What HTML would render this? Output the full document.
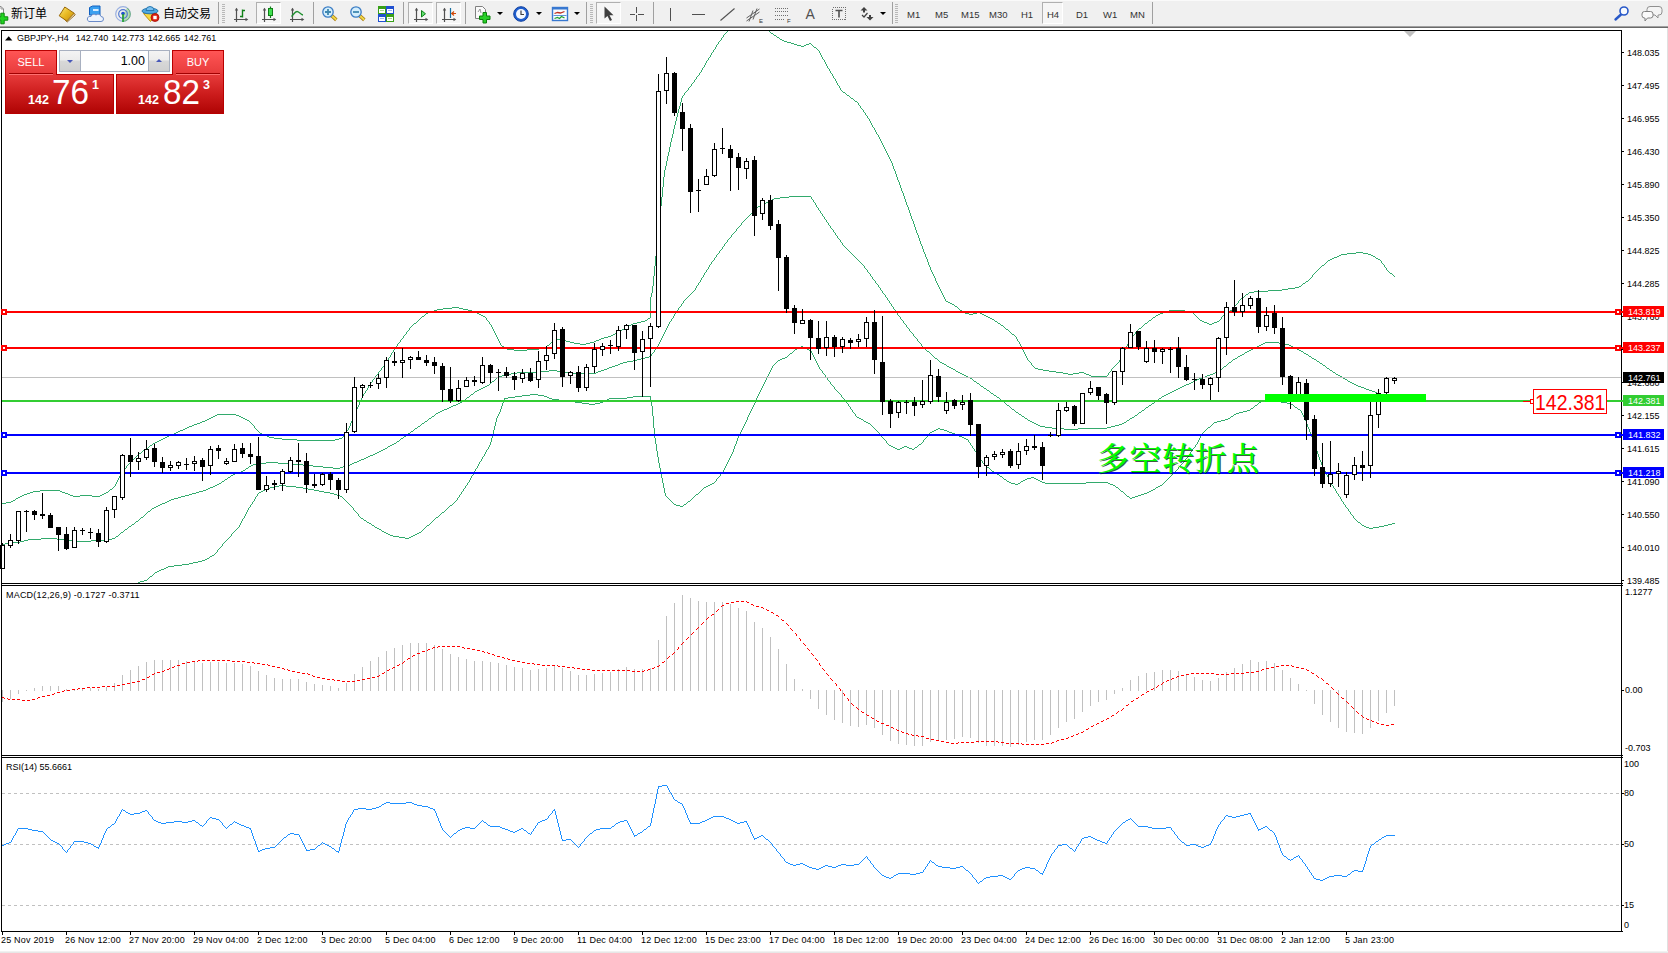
<!DOCTYPE html>
<html><head><meta charset="utf-8"><title>GBPJPY H4</title>
<style>
html,body{margin:0;padding:0;}
body{width:1668px;height:953px;overflow:hidden;background:#fff;position:relative;font-family:"Liberation Sans", sans-serif;}
#tb{position:absolute;left:0;top:0;width:1668px;height:26px;background:#f0f0f0;}
#tbl1{position:absolute;left:0;top:26px;width:1668px;height:1px;background:#a0a0a0;}
#tbl2{position:absolute;left:0;top:27px;width:1668px;height:1px;background:#696969;}
#rb{position:absolute;left:1667px;top:28px;width:1px;height:925px;background:#e0e0e0;}
#bb{position:absolute;left:0;top:951px;width:1668px;height:2px;background:linear-gradient(#f6f6f6,#e2e2e2);}
svg#ch{position:absolute;left:0;top:0;}
.ax{position:absolute;font-size:9px;line-height:12px;color:#000;white-space:nowrap;}
.tag{position:absolute;left:1623px;width:41px;height:11px;color:#fff;font-size:9px;line-height:12px;text-indent:5px;white-space:nowrap;}
.t9{position:absolute;font-size:9px;line-height:12px;color:#000;white-space:nowrap;}
</style></head><body>
<div id="tb"></div><div id="tbl1"></div><div id="tbl2"></div>
<svg id="ch" width="1668" height="953" viewBox="0 0 1668 953">
<defs><clipPath id="cmain"><rect x="2" y="31" width="1619" height="552"/></clipPath></defs>
<path d="M727 31.5h1M769 31.5h1M726 32.5h1M770 32.5h1M725 33.5h1M771 33.5h2M724 34.5h1M773 34.5h1M723.5 35v2M774 35.5h2M776 36.5h1M722 37.5h1M777 37.5h2M721.5 38v2M779 38.5h1M780 39.5h2M720 40.5h1M782 40.5h2M719 41.5h1M784 41.5h3M718.5 42v2M787 42.5h4M791 43.5h3M809 43.5h2M717 44.5h1M794 44.5h3M806 44.5h3M811 44.5h1M716.5 45v2M797 45.5h4M804 45.5h2M812 45.5h1M801 46.5h3M813 46.5h1M715.5 47v2M814 47.5h2M816 48.5h1M714 49.5h1M817 49.5h1M713.5 50v2M818 50.5h1M819.5 51v2M712 52.5h1M711.5 53v2M820.5 53v2M710.5 55v2M821.5 55v2M709 57.5h1M822.5 57v2M708.5 58v2M823 59.5h1M707 60.5h1M824.5 60v2M706.5 61v2M825.5 62v2M705.5 63v2M826.5 64v2M704.5 65v2M827.5 66v2M703 67.5h1M702.5 68v2M828 68.5h1M829.5 69v2M701.5 70v2M830.5 71v2M700 72.5h1M699.5 73v2M831 73.5h1M832.5 74v2M698 75.5h1M697 76.5h1M833.5 76v2M696.5 77v2M834 78.5h1M695 79.5h1M835.5 79v2M694.5 80v2M836.5 81v2M693 82.5h1M692 83.5h1M837.5 83v2M691.5 84v2M838 85.5h1M690 86.5h1M839.5 86v2M689 87.5h1M688.5 88v2M840.5 88v2M687 90.5h1M841 90.5h1M686 91.5h1M842 91.5h1M685 92.5h1M843 92.5h2M684.5 93v2M845 93.5h1M846 94.5h1M683 95.5h1M847 95.5h2M682.5 96v2M849 96.5h1M850 97.5h1M681.5 98v4M851 98.5h2M853 99.5h1M854 100.5h1M855 101.5h2M680.5 102v4M857 102.5h1M858.5 103v2M859 105.5h1M679.5 106v3M860.5 106v2M861 108.5h1M678.5 109v4M862 109.5h1M863.5 110v2M864 112.5h1M677.5 113v4M865.5 113v2M866 115.5h1M867.5 116v2M676.5 117v4M868 118.5h1M869.5 119v2M675.5 121v4M870.5 121v2M871.5 123v2M674.5 125v4M872.5 125v2M873 127.5h1M874.5 128v2M673.5 129v5M875.5 130v2M876.5 132v2M672.5 134v4M877 134.5h1M878.5 135v2M879.5 137v2M671.5 138v4M880.5 139v2M881.5 141v2M670.5 142v5M882.5 143v2M883.5 145v2M669.5 147v5M884.5 147v2M885.5 149v2M886.5 151v2M668.5 152v4M887.5 153v2M888.5 155v2M667.5 156v5M889.5 157v2M890.5 159v2M666.5 161v5M891.5 161v2M892.5 163v3M665.5 166v4M893.5 166v3M894.5 169v2M664.5 170v7M895.5 171v3M896.5 174v3M663.5 177v10M897.5 177v3M898.5 180v2M899.5 182v3M900.5 185v3M662.5 187v10M901.5 188v3M902.5 191v2M903.5 193v3M904.5 196v3M661.5 197v9M905.5 199v3M906.5 202v3M907.5 205v2M660.5 206v10M908.5 207v3M909.5 210v3M910.5 213v3M659.5 216v10M911.5 216v3M912.5 219v2M913.5 221v3M914.5 224v3M658.5 226v10M915.5 227v3M916.5 230v3M917.5 233v2M918.5 235v3M657.5 236v10M919.5 238v3M920.5 241v3M921.5 244v2M656.5 246v10M922.5 246v3M923.5 249v3M924.5 252v2M1356 252.5h7M1347 253.5h9M1363 253.5h5M925.5 254v3M1341 254.5h6M1368 254.5h3M1339 255.5h2M1371 255.5h2M655.5 256v10M1337 256.5h2M1373 256.5h2M926.5 257v2M1334 257.5h3M1375 257.5h1M1332 258.5h2M1376 258.5h2M927.5 259v3M1330 259.5h2M1378 259.5h2M1328 260.5h2M1380 260.5h1M1327 261.5h1M1381.5 261v2M928.5 262v3M1326 262.5h1M1325 263.5h1M1382 263.5h1M1324 264.5h1M1383 264.5h1M929.5 265v2M1322 265.5h2M1384.5 265v2M654.5 266v10M1321 266.5h1M930.5 267v3M1320 267.5h1M1385 267.5h1M1319 268.5h1M1386.5 268v2M1318 269.5h1M931.5 270v2M1317 270.5h1M1387 270.5h1M1316 271.5h1M1388 271.5h1M932.5 272v2M1315 272.5h1M1389 272.5h1M1314 273.5h1M1390 273.5h2M933.5 274v2M1313 274.5h1M1392 274.5h1M1312.5 275v2M1393 275.5h1M653.5 276v10M934.5 276v2M1394 276.5h1M1311 277.5h1M935.5 278v3M1310 278.5h1M1309 279.5h1M1308 280.5h1M936.5 281v2M1306 281.5h2M1305 282.5h1M937.5 283v2M1303 283.5h2M1302 284.5h1M938.5 285v2M1301 285.5h1M652.5 286v7M1299 286.5h2M939.5 287v2M1295 287.5h4M1288 288.5h7M940.5 289v2M1282 289.5h6M1268 290.5h14M941.5 291v2M1254 291.5h14M1249 292.5h5M651.5 293v4M942.5 293v2M1248 293.5h1M1246 294.5h2M943.5 295v2M1245 295.5h1M1244 296.5h1M650.5 297v21M944.5 297v2M1242 297.5h2M1241 298.5h1M945.5 299v2M1240 299.5h1M1239 300.5h1M946 301.5h2M1238.5 301v2M948 302.5h2M950 303.5h2M1237 303.5h1M952 304.5h2M1236 304.5h1M954 305.5h1M1235 305.5h1M955 306.5h2M1234.5 306v2M452 307.5h7M957 307.5h1M443 308.5h9M459 308.5h4M958 308.5h1M1233 308.5h1M437 309.5h6M463 309.5h5M959 309.5h1M1232 309.5h1M434 310.5h3M468 310.5h4M960 310.5h2M1169 310.5h16M1230 310.5h2M431 311.5h3M472 311.5h2M962 311.5h1M1166 311.5h3M1185 311.5h5M1228 311.5h2M428 312.5h3M474 312.5h3M963 312.5h2M977 312.5h3M1163 312.5h3M1190 312.5h3M1227 312.5h1M426 313.5h2M477 313.5h2M965 313.5h4M973 313.5h4M980 313.5h2M1160 313.5h3M1193 313.5h1M1225 313.5h2M425 314.5h1M479 314.5h2M969 314.5h4M982 314.5h2M1158 314.5h2M1194 314.5h1M1224 314.5h1M424 315.5h1M481 315.5h2M984 315.5h2M1156 315.5h2M1195 315.5h1M1223 315.5h1M422 316.5h2M483 316.5h2M986 316.5h2M1155 316.5h1M1196 316.5h1M1222 316.5h1M421 317.5h1M485 317.5h1M988 317.5h2M1153 317.5h2M1197 317.5h1M1221.5 317v2M420 318.5h1M486.5 318v2M648 318.5h2M990 318.5h2M1152 318.5h1M1198 318.5h1M419 319.5h1M647 319.5h1M992 319.5h2M1151 319.5h1M1199 319.5h1M1220 319.5h1M418 320.5h1M487 320.5h1M645 320.5h2M994 320.5h1M1149 320.5h2M1200 320.5h2M1219 320.5h1M417 321.5h1M488 321.5h1M641 321.5h4M995 321.5h2M1148 321.5h1M1202 321.5h2M1217 321.5h2M416 322.5h1M489.5 322v2M637 322.5h4M997 322.5h1M1147 322.5h1M1204 322.5h3M1214 322.5h3M414 323.5h2M633 323.5h4M998 323.5h2M1145 323.5h2M1207 323.5h2M1212 323.5h2M413 324.5h1M490 324.5h1M631 324.5h2M1000 324.5h1M1144 324.5h1M1209 324.5h3M412 325.5h1M491.5 325v2M629 325.5h2M1001 325.5h2M1143 325.5h1M411 326.5h1M627 326.5h2M1003 326.5h1M1142 326.5h1M410 327.5h1M492.5 327v2M625 327.5h2M1004 327.5h1M1141 327.5h1M409.5 328v2M624 328.5h1M1005 328.5h1M1139 328.5h2M493.5 329v2M622 329.5h2M1006 329.5h2M1138 329.5h1M408 330.5h1M620 330.5h2M1008 330.5h1M1137 330.5h1M407 331.5h1M494.5 331v2M618 331.5h2M1009 331.5h1M1136 331.5h1M406.5 332v2M617 332.5h1M1010 332.5h1M1135.5 332v2M495.5 333v2M615 333.5h2M1011 333.5h1M405 334.5h1M613 334.5h2M1012 334.5h2M1134 334.5h1M404 335.5h1M496.5 335v2M611 335.5h2M1014 335.5h1M1133 335.5h1M403.5 336v2M608 336.5h3M1015 336.5h1M1132.5 336v2M497.5 337v2M604 337.5h4M1016.5 337v2M402 338.5h1M601 338.5h3M1131 338.5h1M401 339.5h1M498.5 339v2M556 339.5h4M599 339.5h2M1017.5 339v2M1130 339.5h1M400.5 340v2M554 340.5h2M560 340.5h6M596 340.5h3M1129.5 340v2M499.5 341v2M553 341.5h1M566 341.5h4M594 341.5h2M1018 341.5h1M399 342.5h1M551 342.5h2M570 342.5h4M590 342.5h4M1019.5 342v2M1128.5 342v2M398 343.5h1M500.5 343v2M550 343.5h1M574 343.5h6M586 343.5h4M397.5 344v2M549 344.5h1M580 344.5h6M1020.5 344v2M1127.5 344v2M501 345.5h1M547 345.5h2M396 346.5h1M502 346.5h2M546 346.5h1M1021.5 346v2M1126.5 346v2M395.5 347v2M504 347.5h1M545 347.5h1M505 348.5h2M539 348.5h6M1022.5 348v2M1125.5 348v2M394 349.5h1M507 349.5h7M527 349.5h12M393.5 350v2M514 350.5h13M1023.5 350v2M1124.5 350v2M392 352.5h1M1024.5 352v2M1123.5 352v2M391.5 353v2M1025.5 354v2M1122.5 354v2M390.5 355v2M1026.5 356v2M1121.5 356v2M389 357.5h1M388.5 358v2M1027.5 358v2M1120.5 358v2M387 360.5h1M1028 360.5h1M1119.5 360v2M386.5 361v2M1029 361.5h1M1030 362.5h1M1118 362.5h1M385 363.5h1M1031.5 363v2M1117 363.5h1M384.5 364v2M1116 364.5h1M1032 365.5h1M1115 365.5h1M383 366.5h1M1033 366.5h1M1114 366.5h1M382 367.5h1M1034 367.5h1M1113 367.5h1M381.5 368v2M1035 368.5h3M1112 368.5h1M1038 369.5h5M1111.5 369v2M380 370.5h1M1043 370.5h6M379 371.5h1M1049 371.5h7M1110 371.5h1M378.5 372v2M1056 372.5h7M1079 372.5h5M1109 372.5h1M1063 373.5h5M1073 373.5h6M1084 373.5h2M1108.5 373v2M377 374.5h1M1068 374.5h5M1086 374.5h3M376 375.5h1M1089 375.5h2M1107 375.5h1M375.5 376v2M1091 376.5h16M374 378.5h1M373 379.5h1M372.5 380v2M371 382.5h1M370.5 383v2M369 385.5h1M368.5 386v2M367.5 388v2M366 390.5h1M365.5 391v2M364 393.5h1M363.5 394v2M362.5 396v2M361.5 398v2M360.5 400v2M359.5 402v3M358.5 405v2M357.5 407v2M356.5 409v2M355.5 411v3M217 414.5h19M354.5 414v2M215 415.5h2M236 415.5h3M213 416.5h2M239 416.5h2M353.5 416v3M211 417.5h2M241 417.5h2M209 418.5h2M243 418.5h2M207 419.5h2M245 419.5h2M352.5 419v2M205 420.5h2M247 420.5h2M202 421.5h3M249 421.5h1M351.5 421v2M200 422.5h2M250 422.5h1M197 423.5h3M251 423.5h1M350.5 423v3M194 424.5h3M252 424.5h1M192 425.5h2M253 425.5h1M189 426.5h3M254.5 426v2M349.5 426v2M187 427.5h2M185 428.5h2M255 428.5h1M348.5 428v2M183 429.5h2M256 429.5h1M180 430.5h3M257 430.5h1M347 430.5h1M178 431.5h2M258 431.5h1M346.5 431v2M176 432.5h2M259 432.5h1M174 433.5h2M260 433.5h2M345 433.5h1M171 434.5h3M262 434.5h2M344 434.5h1M169 435.5h2M264 435.5h3M343.5 435v2M167 436.5h2M267 436.5h2M165 437.5h2M269 437.5h5M342 437.5h1M163 438.5h2M274 438.5h8M339 438.5h3M161 439.5h2M282 439.5h15M335 439.5h4M159 440.5h2M297 440.5h38M157 441.5h2M155 442.5h2M153 443.5h2M152 444.5h1M150 445.5h2M149 446.5h1M148 447.5h1M146 448.5h2M145 449.5h1M143 450.5h2M142 451.5h1M141 452.5h1M139 453.5h2M138 454.5h1M137 455.5h1M136 456.5h1M135 457.5h1M134 458.5h1M133 459.5h1M132 460.5h1M131 461.5h1M130 462.5h1M129 463.5h1M128 464.5h1M127 465.5h1M126.5 466v2M125 468.5h1M124 469.5h1M123.5 470v2M122 472.5h1M121 473.5h1M120.5 474v2M119.5 476v2M118.5 478v2M117.5 480v2M116.5 482v2M115.5 484v2M114 486.5h1M113 487.5h1M112 488.5h1M110 489.5h2M40 490.5h20M109 490.5h1M33 491.5h7M60 491.5h2M108 491.5h1M30 492.5h3M62 492.5h3M106 492.5h2M27 493.5h3M65 493.5h3M104 493.5h2M24 494.5h3M68 494.5h2M102 494.5h2M22 495.5h2M70 495.5h3M80 495.5h12M100 495.5h2M20 496.5h2M73 496.5h7M92 496.5h8M18 497.5h2M16 498.5h2M15 499.5h1M13 500.5h2M11 501.5h2M6 502.5h5M2 503.5h4" stroke="#32aa6c" stroke-width="1" fill="none" shape-rendering="crispEdges"/>
<path d="M789 196.5h22M780 197.5h9M811.5 197v2M774 198.5h6M772 199.5h2M812 199.5h1M770 200.5h2M813.5 200v2M768 201.5h2M766 202.5h2M814 202.5h1M764 203.5h2M815.5 203v2M762 204.5h2M760 205.5h2M816.5 205v2M758 206.5h2M757 207.5h1M817 207.5h1M756 208.5h1M818.5 208v2M755 209.5h1M754 210.5h1M819 210.5h1M753 211.5h1M820.5 211v2M752 212.5h1M751 213.5h1M821 213.5h1M750 214.5h1M822.5 214v2M749 215.5h1M748 216.5h1M823 216.5h1M747 217.5h1M824.5 217v2M746 218.5h1M745 219.5h1M825 219.5h1M744 220.5h1M826.5 220v2M743 221.5h1M742 222.5h1M827 222.5h1M741.5 223v2M828.5 223v2M740 225.5h1M829 225.5h1M739 226.5h1M830.5 226v2M738 227.5h1M737 228.5h1M831 228.5h1M736.5 229v2M832 229.5h1M833.5 230v2M735 231.5h1M734 232.5h1M834 232.5h1M733 233.5h1M835.5 233v2M732 234.5h1M731.5 235v2M836 235.5h1M837.5 236v2M730 237.5h1M729 238.5h1M838 238.5h1M728 239.5h1M839 239.5h1M727.5 240v2M840.5 240v2M726 242.5h1M841 242.5h1M725 243.5h1M842.5 243v2M724.5 244v2M843 245.5h1M723 246.5h1M844 246.5h1M722.5 247v2M845 247.5h1M846 248.5h1M721 249.5h1M847 249.5h1M720 250.5h1M848 250.5h1M719.5 251v2M849 251.5h1M850 252.5h1M718 253.5h1M851 253.5h1M717 254.5h1M852 254.5h1M716.5 255v2M853 255.5h1M854 256.5h1M715 257.5h1M855 257.5h1M714.5 258v2M856 258.5h1M857 259.5h1M713 260.5h1M858 260.5h1M712 261.5h1M859 261.5h1M711.5 262v2M860 262.5h1M861 263.5h1M710 264.5h1M862 264.5h1M709.5 265v2M863 265.5h1M864.5 266v2M708.5 267v2M865 268.5h1M707 269.5h1M866 269.5h1M706.5 270v2M867.5 270v2M705 272.5h1M868 272.5h1M704.5 273v2M869 273.5h1M870.5 274v2M703.5 275v2M871 276.5h1M702 277.5h1M872.5 277v2M701.5 278v2M873 279.5h1M700.5 280v2M874 280.5h1M875.5 281v2M699 282.5h1M698.5 283v2M876 283.5h1M877 284.5h1M697 285.5h1M878.5 285v2M696.5 286v2M879 287.5h1M695.5 288v2M880.5 288v2M694 290.5h1M881 290.5h1M693 291.5h1M882.5 291v2M692 292.5h1M691 293.5h1M883 293.5h1M690 294.5h1M884 294.5h1M689 295.5h1M885.5 295v2M688 296.5h1M687 297.5h1M886 297.5h1M686 298.5h1M887.5 298v2M685 299.5h1M684 300.5h1M888 300.5h1M683.5 301v2M889.5 301v2M682 303.5h1M890 303.5h1M681.5 304v2M891.5 304v2M680 306.5h1M892 306.5h1M679 307.5h1M893.5 307v2M678.5 308v2M894 309.5h1M677 310.5h1M895.5 310v2M676.5 311v2M896 312.5h1M675 313.5h1M897.5 313v2M674.5 314v2M898 315.5h1M673.5 316v2M899 316.5h1M900.5 317v2M672 318.5h1M671.5 319v2M901 319.5h1M902 320.5h1M670 321.5h1M903.5 321v2M669.5 322v2M904 323.5h1M668.5 324v2M905 324.5h1M906.5 325v2M667.5 326v2M907 327.5h1M666.5 328v2M908 328.5h1M909.5 329v2M665.5 330v2M910 331.5h1M664.5 332v2M911 332.5h1M912 333.5h1M663.5 334v2M913.5 334v2M662.5 336v2M914 336.5h1M915 337.5h1M661.5 338v2M916 338.5h1M917.5 339v2M660.5 340v2M918 341.5h1M659.5 342v2M919 342.5h1M1265 342.5h14M920 343.5h1M1263 343.5h2M1279 343.5h6M658.5 344v2M921.5 344v2M1261 344.5h2M1285 344.5h4M1259 345.5h2M1289 345.5h2M657 346.5h1M922 346.5h1M1257 346.5h2M1291 346.5h2M656.5 347v2M923 347.5h1M1255 347.5h2M1293 347.5h2M924 348.5h1M1253 348.5h2M1295 348.5h2M655 349.5h1M925 349.5h1M1251 349.5h2M1297 349.5h2M654.5 350v2M926 350.5h1M1249 350.5h2M1299 350.5h2M927 351.5h2M1247 351.5h2M1301 351.5h2M653 352.5h1M929 352.5h1M1245 352.5h2M1303 352.5h1M652 353.5h1M930 353.5h1M1244 353.5h1M1304 353.5h2M651.5 354v2M931 354.5h1M1242 354.5h2M1306 354.5h2M932 355.5h1M1240 355.5h2M1308 355.5h1M649 356.5h2M933 356.5h1M1238 356.5h2M1309 356.5h2M645 357.5h4M934 357.5h1M1237 357.5h1M1311 357.5h1M641 358.5h4M935 358.5h2M1235 358.5h2M1312 358.5h2M637 359.5h4M937 359.5h1M1233 359.5h2M1314 359.5h2M633 360.5h4M938 360.5h1M1232 360.5h1M1316 360.5h1M627 361.5h6M939 361.5h1M1231 361.5h1M1317 361.5h2M623 362.5h4M940 362.5h2M1229 362.5h2M1319 362.5h1M620 363.5h3M942 363.5h2M1228 363.5h1M1320 363.5h2M618 364.5h2M944 364.5h2M1227 364.5h1M1322 364.5h1M615 365.5h3M946 365.5h1M1226 365.5h1M1323 365.5h2M612 366.5h3M947 366.5h2M1224 366.5h2M1325 366.5h1M609 367.5h3M949 367.5h2M1223 367.5h1M1326 367.5h1M607 368.5h2M951 368.5h2M1222 368.5h1M1327 368.5h2M604 369.5h3M953 369.5h2M1220 369.5h2M1329 369.5h1M549 370.5h8M601 370.5h3M955 370.5h1M1218 370.5h2M1330 370.5h2M539 371.5h10M557 371.5h7M598 371.5h3M956 371.5h2M1217 371.5h1M1332 371.5h1M517 372.5h22M564 372.5h6M596 372.5h2M958 372.5h2M1215 372.5h2M1333 372.5h2M511 373.5h6M570 373.5h26M960 373.5h2M1213 373.5h2M1335 373.5h1M506 374.5h5M962 374.5h2M1210 374.5h3M1336 374.5h2M502 375.5h4M964 375.5h2M1207 375.5h3M1338 375.5h2M499 376.5h3M966 376.5h2M1205 376.5h2M1340 376.5h2M497 377.5h2M968 377.5h2M1202 377.5h3M1342 377.5h1M496 378.5h1M970 378.5h2M1199 378.5h3M1343 378.5h2M495 379.5h1M972 379.5h1M1197 379.5h2M1345 379.5h2M494 380.5h1M973 380.5h1M1195 380.5h2M1347 380.5h1M492 381.5h2M974 381.5h2M1193 381.5h2M1348 381.5h2M491 382.5h1M976 382.5h1M1191 382.5h2M1350 382.5h2M490 383.5h1M977 383.5h2M1189 383.5h2M1352 383.5h2M489 384.5h1M979 384.5h1M1186 384.5h3M1354 384.5h2M487 385.5h2M980 385.5h1M1184 385.5h2M1356 385.5h2M485 386.5h2M981 386.5h2M1182 386.5h2M1358 386.5h3M483 387.5h2M983 387.5h1M1180 387.5h2M1361 387.5h3M481 388.5h2M984 388.5h2M1178 388.5h2M1364 388.5h2M479 389.5h2M986 389.5h1M1176 389.5h2M1366 389.5h3M477 390.5h2M987 390.5h2M1174 390.5h2M1369 390.5h3M475 391.5h2M989 391.5h1M1172 391.5h2M1372 391.5h3M474 392.5h1M990 392.5h1M1170 392.5h2M1375 392.5h2M473 393.5h1M991 393.5h2M1168 393.5h2M471 394.5h2M993 394.5h1M1166 394.5h2M470 395.5h1M994 395.5h2M1164 395.5h2M469 396.5h1M996 396.5h1M1162 396.5h2M467 397.5h2M997 397.5h2M1161 397.5h1M466 398.5h1M999 398.5h1M1159 398.5h2M465 399.5h1M1000 399.5h1M1158 399.5h1M463 400.5h2M1001 400.5h2M1156 400.5h2M462 401.5h1M1003 401.5h1M1155 401.5h1M460 402.5h2M1004 402.5h1M1154 402.5h1M458 403.5h2M1005 403.5h1M1152 403.5h2M456 404.5h2M1006 404.5h1M1151 404.5h1M453 405.5h3M1007 405.5h2M1149 405.5h2M451 406.5h2M1009 406.5h1M1148 406.5h1M449 407.5h2M1010 407.5h1M1146 407.5h2M447 408.5h2M1011 408.5h1M1145 408.5h1M444 409.5h3M1012 409.5h2M1144 409.5h1M442 410.5h2M1014 410.5h1M1142 410.5h2M440 411.5h2M1015 411.5h1M1141 411.5h1M438 412.5h2M1016 412.5h2M1139 412.5h2M436 413.5h2M1018 413.5h1M1138 413.5h1M435 414.5h1M1019 414.5h2M1137 414.5h1M434 415.5h1M1021 415.5h1M1135 415.5h2M432 416.5h2M1022 416.5h2M1134 416.5h1M431 417.5h1M1024 417.5h1M1132 417.5h2M429 418.5h2M1025 418.5h2M1130 418.5h2M428 419.5h1M1027 419.5h1M1129 419.5h1M427 420.5h1M1028 420.5h2M1127 420.5h2M425 421.5h2M1030 421.5h2M1126 421.5h1M424 422.5h1M1032 422.5h2M1124 422.5h2M422 423.5h2M1034 423.5h2M1122 423.5h2M421 424.5h1M1036 424.5h2M1119 424.5h3M420 425.5h1M1038 425.5h2M1115 425.5h4M418 426.5h2M1040 426.5h5M1111 426.5h4M417 427.5h1M1045 427.5h7M1107 427.5h4M415 428.5h2M1052 428.5h12M1078 428.5h29M414 429.5h1M1064 429.5h14M413 430.5h1M411 431.5h2M410 432.5h1M408 433.5h2M407 434.5h1M406 435.5h1M404 436.5h2M403 437.5h1M401 438.5h2M400 439.5h1M399 440.5h1M397 441.5h2M396 442.5h1M394 443.5h2M392 444.5h2M390 445.5h2M388 446.5h2M387 447.5h1M385 448.5h2M383 449.5h2M381 450.5h2M379 451.5h2M377 452.5h2M375 453.5h2M373 454.5h2M370 455.5h3M368 456.5h2M366 457.5h2M364 458.5h2M361 459.5h3M359 460.5h2M357 461.5h2M266 462.5h12M354 462.5h3M258 463.5h8M278 463.5h14M352 463.5h2M253 464.5h5M292 464.5h11M350 464.5h2M251 465.5h2M303 465.5h10M347 465.5h3M249 466.5h2M313 466.5h10M343 466.5h4M248 467.5h1M323 467.5h10M340 467.5h3M246 468.5h2M333 468.5h7M245 469.5h1M243 470.5h2M241 471.5h2M239 472.5h2M235 473.5h4M233 474.5h2M231 475.5h2M230 476.5h1M228 477.5h2M227 478.5h1M225 479.5h2M224 480.5h1M222 481.5h2M221 482.5h1M219 483.5h2M217 484.5h2M215 485.5h2M213 486.5h2M210 487.5h3M208 488.5h2M206 489.5h2M203 490.5h3M199 491.5h4M196 492.5h3M192 493.5h4M189 494.5h3M185 495.5h4M181 496.5h4M178 497.5h3M174 498.5h4M171 499.5h3M169 500.5h2M167 501.5h2M165 502.5h2M162 503.5h3M160 504.5h2M158 505.5h2M156 506.5h2M154 507.5h2M152 508.5h2M151 509.5h1M150 510.5h1M148 511.5h2M147 512.5h1M146 513.5h1M145 514.5h1M144 515.5h1M143 516.5h1M141 517.5h2M140 518.5h1M139 519.5h1M138 520.5h1M136 521.5h2M135 522.5h1M134 523.5h1M132 524.5h2M131 525.5h1M129 526.5h2M128 527.5h1M127 528.5h1M125 529.5h2M124 530.5h1M123 531.5h1M121 532.5h2M120 533.5h1M119 534.5h1M118 535.5h1M116 536.5h2M115 537.5h1M41 538.5h16M112 538.5h3M28 539.5h13M57 539.5h8M107 539.5h5M24 540.5h4M65 540.5h9M91 540.5h16M20 541.5h4M74 541.5h17M13 542.5h7M5 543.5h8M2 544.5h3" stroke="#32aa6c" stroke-width="1" fill="none" shape-rendering="crispEdges"/>
<path d="M801 346.5h2M799 347.5h2M803 347.5h2M797 348.5h2M805 348.5h2M795 349.5h2M807 349.5h2M794 350.5h1M809 350.5h2M793 351.5h1M811.5 351v2M792 352.5h1M790 353.5h2M812.5 353v2M789 354.5h1M788 355.5h1M813.5 355v2M787 356.5h1M785 357.5h2M814.5 357v2M782 358.5h3M780 359.5h2M815.5 359v2M778 360.5h2M777 361.5h1M816.5 361v2M776 362.5h1M775 363.5h1M817.5 363v2M774 364.5h1M773 365.5h1M818.5 365v2M772.5 366v2M819.5 367v2M771.5 368v2M820 369.5h1M770.5 370v2M821 370.5h1M822.5 371v2M769.5 372v2M823 373.5h1M768.5 374v2M824 374.5h1M825.5 375v2M767.5 376v2M826 377.5h1M766.5 378v2M827.5 378v2M765.5 380v2M828 380.5h1M829 381.5h1M764.5 382v2M830.5 382v2M763.5 384v2M831 384.5h1M832 385.5h1M762.5 386v2M833 386.5h1M834.5 387v2M761.5 388v2M835 389.5h1M760.5 390v2M836 390.5h1M837 391.5h1M759.5 392v2M838 392.5h1M839 393.5h1M530 394.5h8M758.5 394v2M840 394.5h1M522 395.5h8M538 395.5h6M841.5 395v2M515 396.5h7M544 396.5h3M633 396.5h18M757.5 396v2M508 397.5h7M547 397.5h2M627 397.5h6M650.5 397v3M842 397.5h1M504 398.5h4M549 398.5h3M609 398.5h18M756.5 398v2M843 398.5h1M504 399.5h1M552 399.5h7M607 399.5h2M844 399.5h1M503.5 400v3M559 400.5h9M605 400.5h2M651.5 400v6M755.5 400v3M845.5 400v2M1262 400.5h13M568 401.5h7M603 401.5h2M1261 401.5h1M1275 401.5h6M575 402.5h7M600 402.5h3M846 402.5h1M1259 402.5h2M1281 402.5h6M502.5 403v3M582 403.5h7M595 403.5h5M754.5 403v2M847 403.5h1M1258 403.5h1M1287 403.5h4M589 404.5h6M848.5 404v2M1257 404.5h1M1291 404.5h2M753.5 405v2M1255 405.5h2M1293 405.5h1M501.5 406v3M652.5 406v10M849 406.5h1M1254 406.5h1M1294 406.5h1M752.5 407v2M850.5 407v2M1253 407.5h1M1295 407.5h2M1251 408.5h2M1297 408.5h1M500.5 409v3M751.5 409v2M851 409.5h1M1250 409.5h1M1298 409.5h2M852.5 410v2M1247 410.5h3M1300 410.5h1M750.5 411v2M1243 411.5h4M1301.5 411v2M499.5 412v2M853 412.5h1M1239 412.5h4M749.5 413v2M854 413.5h1M1236 413.5h3M1302.5 413v2M498.5 414v2M855.5 414v2M1234 414.5h2M748.5 415v2M1233 415.5h1M1303.5 415v2M497.5 416v2M653.5 416v12M856 416.5h1M1231 416.5h2M747.5 417v3M857 417.5h2M1230 417.5h1M1304.5 417v2M496.5 418v4M859 418.5h2M1228 418.5h2M861 419.5h2M1225 419.5h3M1305.5 419v2M746.5 420v2M863 420.5h1M1221 420.5h4M864 421.5h2M1217 421.5h4M1306.5 421v3M495.5 422v4M745.5 422v2M866 422.5h2M1214 422.5h3M868 423.5h2M1213 423.5h1M744.5 424v2M870 424.5h1M1212 424.5h1M1307.5 424v3M871 425.5h1M1211 425.5h1M494.5 426v4M743.5 426v2M872 426.5h1M1210 426.5h1M873 427.5h1M1208 427.5h2M1308.5 427v2M654.5 428v10M742.5 428v2M874 428.5h1M938 428.5h2M1207 428.5h1M875 429.5h1M936 429.5h2M940 429.5h4M1206 429.5h1M1309.5 429v3M493.5 430v4M741.5 430v2M876 430.5h1M934 430.5h2M944 430.5h3M1205 430.5h1M877 431.5h1M932 431.5h2M947 431.5h2M1204 431.5h1M740.5 432v2M878 432.5h1M930 432.5h2M949 432.5h3M1203 432.5h1M1310.5 432v3M879 433.5h1M929 433.5h1M952 433.5h3M1202 433.5h1M492.5 434v4M739.5 434v2M880 434.5h1M928 434.5h1M955 434.5h2M1201.5 434v2M881.5 435v2M927.5 435v2M957 435.5h2M1311.5 435v2M738.5 436v2M959 436.5h3M1200.5 436v2M882 437.5h1M926 437.5h1M962 437.5h2M1312.5 437v3M491.5 438v4M655.5 438v6M737.5 438v3M883 438.5h1M925 438.5h1M964 438.5h2M1199.5 438v2M884 439.5h1M924 439.5h1M966 439.5h2M885 440.5h1M923.5 440v2M968.5 440v2M1198.5 440v2M1313.5 440v3M736.5 441v3M886.5 441v2M490.5 442v3M922 442.5h1M969 442.5h1M1197.5 442v2M887 443.5h1M921 443.5h1M970.5 443v2M1314.5 443v3M656.5 444v7M735.5 444v2M888 444.5h1M919 444.5h2M1196 444.5h1M489.5 445v2M889 445.5h2M918 445.5h1M971 445.5h1M1195.5 445v2M734.5 446v3M891 446.5h2M904 446.5h3M917 446.5h1M972.5 446v2M1315.5 446v2M488.5 447v2M893 447.5h2M902 447.5h2M907 447.5h2M915 447.5h2M1194 447.5h1M895 448.5h2M900 448.5h2M909 448.5h3M914 448.5h1M973 448.5h1M1193 448.5h1M1316.5 448v3M487 449.5h1M733.5 449v3M897 449.5h3M912 449.5h2M974.5 449v2M1192.5 449v2M486.5 450v2M657.5 451v6M975 451.5h1M1191 451.5h1M1317.5 451v3M485.5 452v2M732.5 452v2M976.5 452v2M1190.5 452v2M484.5 454v2M731.5 454v2M977 454.5h1M1189 454.5h1M1318.5 454v3M978.5 455v2M1188.5 455v2M483 456.5h1M730.5 456v2M482.5 457v2M658.5 457v6M979 457.5h1M1187 457.5h1M1319.5 457v3M729.5 458v2M980.5 458v2M1186 458.5h1M481.5 459v2M1185.5 459v2M728.5 460v2M981 460.5h1M1320.5 460v2M480 461.5h1M982.5 461v2M1184 461.5h1M479.5 462v2M727.5 462v2M1183 462.5h1M1321.5 462v3M659.5 463v5M983 463.5h1M1182 463.5h1M478.5 464v2M726.5 464v2M984 464.5h1M1181 464.5h1M985 465.5h1M1180 465.5h1M1322.5 465v2M477.5 466v2M725.5 466v2M986 466.5h1M1179 466.5h1M987 467.5h2M1178.5 467v2M1323.5 467v2M476 468.5h1M660.5 468v5M724.5 468v2M989 468.5h1M475.5 469v2M990 469.5h1M1177 469.5h1M1324.5 469v2M723.5 470v2M991 470.5h1M1176 470.5h1M474.5 471v2M992 471.5h2M1175 471.5h1M1325.5 471v2M722 472.5h1M994 472.5h1M1174 472.5h1M473.5 473v2M661.5 473v5M721 473.5h1M995 473.5h2M1173 473.5h1M1326.5 473v2M720.5 474v2M997 474.5h2M1172 474.5h1M472 475.5h1M999 475.5h1M1171 475.5h1M1327.5 475v2M471.5 476v2M719 476.5h1M1000 476.5h2M1170 476.5h1M718 477.5h1M1002 477.5h1M1031 477.5h3M1169 477.5h1M1328.5 477v2M470.5 478v2M662.5 478v5M717 478.5h1M1003 478.5h1M1027 478.5h4M1034 478.5h2M1168 478.5h1M716.5 479v2M1004 479.5h2M1025 479.5h2M1036 479.5h2M1167 479.5h1M1329.5 479v2M469.5 480v2M1006 480.5h1M1023 480.5h2M1038 480.5h2M1166 480.5h1M715 481.5h1M1007 481.5h2M1021 481.5h2M1040 481.5h2M1165 481.5h1M1330.5 481v2M468 482.5h1M714 482.5h1M1009 482.5h2M1020 482.5h1M1042 482.5h3M1086 482.5h22M1164 482.5h1M467.5 483v2M663.5 483v5M712 483.5h2M1011 483.5h4M1018 483.5h2M1045 483.5h41M1108 483.5h2M1163 483.5h1M1331.5 483v2M710 484.5h2M1015 484.5h3M1110 484.5h3M1162 484.5h1M279 485.5h7M466 485.5h1M708 485.5h2M1113 485.5h2M1160 485.5h2M1332 485.5h1M274 486.5h5M286 486.5h10M465.5 486v2M706 486.5h2M1115 486.5h1M1158 486.5h2M1333.5 486v2M270 487.5h4M296 487.5h7M704 487.5h2M1116 487.5h2M1156 487.5h2M267 488.5h3M303 488.5h5M464 488.5h1M664.5 488v5M703 488.5h1M1118 488.5h1M1155 488.5h1M1334 488.5h1M265 489.5h2M308 489.5h6M463.5 489v2M702 489.5h1M1119 489.5h1M1153 489.5h2M1335.5 489v2M263 490.5h2M314 490.5h5M701 490.5h1M1120 490.5h1M1151 490.5h2M261 491.5h2M319 491.5h5M462 491.5h1M700 491.5h1M1121 491.5h2M1149 491.5h2M1336.5 491v2M259 492.5h2M324 492.5h6M461.5 492v2M699 492.5h1M1123 492.5h1M1147 492.5h2M258 493.5h1M330 493.5h4M665.5 493v3M698 493.5h1M1124 493.5h1M1144 493.5h3M1337 493.5h1M257.5 494v2M334 494.5h3M460 494.5h1M696 494.5h2M1125 494.5h1M1141 494.5h3M1338.5 494v2M337 495.5h3M459.5 495v2M695 495.5h1M1126 495.5h1M1138 495.5h3M256 496.5h1M340 496.5h2M666 496.5h1M694 496.5h1M1127 496.5h2M1135 496.5h3M1339 496.5h1M255.5 497v2M342 497.5h1M458 497.5h1M667 497.5h1M693 497.5h1M1129 497.5h1M1132 497.5h3M1340.5 497v2M343 498.5h1M457.5 498v2M668 498.5h1M692 498.5h1M1130 498.5h2M254.5 499v2M344 499.5h1M669 499.5h1M691 499.5h1M1341.5 499v2M345 500.5h1M456 500.5h1M670 500.5h1M690 500.5h1M253 501.5h1M346 501.5h1M455 501.5h1M671 501.5h1M688 501.5h2M1342 501.5h1M252.5 502v2M347 502.5h1M454 502.5h1M672 502.5h1M687 502.5h1M1343.5 502v2M348 503.5h1M453 503.5h1M673 503.5h1M686 503.5h1M251 504.5h1M349 504.5h1M452 504.5h1M674 504.5h2M684 504.5h2M1344 504.5h1M250.5 505v2M350 505.5h1M450 505.5h2M676 505.5h4M683 505.5h1M1345.5 505v2M351 506.5h1M449 506.5h1M680 506.5h3M249 507.5h1M352 507.5h1M448 507.5h1M1346 507.5h1M248.5 508v2M353.5 508v2M447 508.5h1M1347 508.5h1M446 509.5h1M1348.5 509v2M247.5 510v2M354 510.5h1M445 510.5h1M355 511.5h1M444 511.5h1M1349 511.5h1M246.5 512v2M356 512.5h1M442 512.5h2M1350.5 512v2M357 513.5h1M441 513.5h1M245.5 514v2M358.5 514v2M440 514.5h1M1351 514.5h1M439 515.5h1M1352 515.5h1M244.5 516v2M359 516.5h1M438 516.5h1M1353.5 516v2M360 517.5h1M436 517.5h2M243 518.5h1M361 518.5h2M435 518.5h1M1354 518.5h1M242.5 519v2M363 519.5h1M434 519.5h1M1355 519.5h1M364 520.5h2M433 520.5h1M1356 520.5h1M241.5 521v2M366 521.5h1M432 521.5h1M1357 521.5h1M367 522.5h2M431 522.5h1M1358 522.5h2M240.5 523v2M369 523.5h2M430 523.5h1M1360 523.5h1M1392 523.5h3M371 524.5h1M429 524.5h1M1361 524.5h1M1388 524.5h4M239.5 525v2M372 525.5h2M427 525.5h2M1362 525.5h2M1384 525.5h4M374 526.5h1M426 526.5h1M1364 526.5h2M1379 526.5h5M238 527.5h1M375 527.5h2M425 527.5h1M1366 527.5h3M1373 527.5h6M237 528.5h1M377 528.5h2M424 528.5h1M1369 528.5h4M236 529.5h1M379 529.5h2M423 529.5h1M235 530.5h1M381 530.5h1M422 530.5h1M234 531.5h1M382 531.5h2M421 531.5h1M233 532.5h1M384 532.5h2M419 532.5h2M232 533.5h1M386 533.5h2M417 533.5h2M231.5 534v2M388 534.5h2M415 534.5h2M390 535.5h3M413 535.5h2M230 536.5h1M393 536.5h6M411 536.5h2M229 537.5h1M399 537.5h6M409 537.5h2M228 538.5h1M405 538.5h4M227 539.5h1M226 540.5h1M225 541.5h1M224 542.5h1M223 543.5h1M222.5 544v2M221 546.5h1M220 547.5h1M219 548.5h1M218 549.5h1M217.5 550v2M216 552.5h1M215 553.5h1M214 554.5h1M212 555.5h2M210 556.5h2M209 557.5h1M207 558.5h2M205 559.5h2M202 560.5h3M198 561.5h4M193 562.5h5M189 563.5h4M182 564.5h7M174 565.5h8M168 566.5h6M166 567.5h2M164 568.5h2M161 569.5h3M159 570.5h2M157 571.5h2M155 572.5h2M154 573.5h1M153 574.5h1M152 575.5h1M150 576.5h2M149 577.5h1M148 578.5h1M147 579.5h1M144 580.5h3M140 581.5h4M138 582.5h2" stroke="#32aa6c" stroke-width="1" fill="none" shape-rendering="crispEdges"/>
<rect x="2" y="311" width="1619" height="2" fill="#ff0000"/>
<rect x="2" y="347" width="1619" height="2" fill="#ff0000"/>
<rect x="2" y="377" width="1619" height="1" fill="#c0c0c0"/>
<rect x="2" y="400" width="1619" height="2" fill="#32cd32"/>
<rect x="2" y="434" width="1619" height="2" fill="#0000ff"/>
<rect x="2" y="472" width="1619" height="2" fill="#0000ff"/>
<g shape-rendering="crispEdges">
<rect x="2" y="543" width="1" height="26" fill="#000"/>
<rect x="0" y="545" width="5" height="24" fill="#000"/>
<rect x="1" y="546" width="3" height="22" fill="#fff"/>
<rect x="10" y="534" width="1" height="14" fill="#000"/>
<rect x="8" y="540" width="5" height="6" fill="#000"/>
<rect x="9" y="541" width="3" height="4" fill="#fff"/>
<rect x="18" y="511" width="1" height="33" fill="#000"/>
<rect x="16" y="511" width="5" height="30" fill="#000"/>
<rect x="17" y="512" width="3" height="28" fill="#fff"/>
<rect x="26" y="510" width="1" height="22" fill="#000"/>
<rect x="24" y="511" width="5" height="1" fill="#000"/>
<rect x="34" y="510" width="1" height="10" fill="#000"/>
<rect x="32" y="511" width="5" height="4" fill="#000"/>
<rect x="42" y="493" width="1" height="26" fill="#000"/>
<rect x="40" y="514" width="5" height="2" fill="#000"/>
<rect x="50" y="513" width="1" height="15" fill="#000"/>
<rect x="48" y="515" width="5" height="13" fill="#000"/>
<rect x="58" y="527" width="1" height="24" fill="#000"/>
<rect x="56" y="527" width="5" height="8" fill="#000"/>
<rect x="66" y="527" width="1" height="23" fill="#000"/>
<rect x="64" y="534" width="5" height="15" fill="#000"/>
<rect x="74" y="527" width="1" height="21" fill="#000"/>
<rect x="72" y="530" width="5" height="18" fill="#000"/>
<rect x="73" y="531" width="3" height="16" fill="#fff"/>
<rect x="82" y="528" width="1" height="7" fill="#000"/>
<rect x="80" y="530" width="5" height="1" fill="#000"/>
<rect x="90" y="528" width="1" height="11" fill="#000"/>
<rect x="88" y="532" width="5" height="1" fill="#000"/>
<rect x="98" y="529" width="1" height="18" fill="#000"/>
<rect x="96" y="533" width="5" height="9" fill="#000"/>
<rect x="106" y="507" width="1" height="36" fill="#000"/>
<rect x="104" y="510" width="5" height="32" fill="#000"/>
<rect x="105" y="511" width="3" height="30" fill="#fff"/>
<rect x="114" y="496" width="1" height="22" fill="#000"/>
<rect x="112" y="496" width="5" height="14" fill="#000"/>
<rect x="113" y="497" width="3" height="12" fill="#fff"/>
<rect x="122" y="454" width="1" height="46" fill="#000"/>
<rect x="120" y="455" width="5" height="43" fill="#000"/>
<rect x="121" y="456" width="3" height="41" fill="#fff"/>
<rect x="130" y="438" width="1" height="39" fill="#000"/>
<rect x="128" y="455" width="5" height="7" fill="#000"/>
<rect x="138" y="452" width="1" height="18" fill="#000"/>
<rect x="136" y="458" width="5" height="4" fill="#000"/>
<rect x="137" y="459" width="3" height="2" fill="#fff"/>
<rect x="146" y="440" width="1" height="20" fill="#000"/>
<rect x="144" y="449" width="5" height="9" fill="#000"/>
<rect x="145" y="450" width="3" height="7" fill="#fff"/>
<rect x="154" y="444" width="1" height="23" fill="#000"/>
<rect x="152" y="448" width="5" height="14" fill="#000"/>
<rect x="162" y="457" width="1" height="16" fill="#000"/>
<rect x="160" y="462" width="5" height="6" fill="#000"/>
<rect x="170" y="461" width="1" height="10" fill="#000"/>
<rect x="168" y="465" width="5" height="3" fill="#000"/>
<rect x="169" y="466" width="3" height="1" fill="#fff"/>
<rect x="178" y="461" width="1" height="8" fill="#000"/>
<rect x="176" y="462" width="5" height="4" fill="#000"/>
<rect x="177" y="463" width="3" height="2" fill="#fff"/>
<rect x="186" y="458" width="1" height="12" fill="#000"/>
<rect x="184" y="464" width="5" height="1" fill="#000"/>
<rect x="194" y="456" width="1" height="15" fill="#000"/>
<rect x="192" y="461" width="5" height="3" fill="#000"/>
<rect x="193" y="462" width="3" height="1" fill="#fff"/>
<rect x="202" y="458" width="1" height="23" fill="#000"/>
<rect x="200" y="460" width="5" height="7" fill="#000"/>
<rect x="210" y="446" width="1" height="29" fill="#000"/>
<rect x="208" y="449" width="5" height="17" fill="#000"/>
<rect x="209" y="450" width="3" height="15" fill="#fff"/>
<rect x="218" y="445" width="1" height="14" fill="#000"/>
<rect x="216" y="448" width="5" height="3" fill="#000"/>
<rect x="226" y="458" width="1" height="7" fill="#000"/>
<rect x="224" y="461" width="5" height="3" fill="#000"/>
<rect x="225" y="462" width="3" height="1" fill="#fff"/>
<rect x="234" y="444" width="1" height="18" fill="#000"/>
<rect x="232" y="449" width="5" height="13" fill="#000"/>
<rect x="233" y="450" width="3" height="11" fill="#fff"/>
<rect x="242" y="443" width="1" height="15" fill="#000"/>
<rect x="240" y="448" width="5" height="6" fill="#000"/>
<rect x="250" y="443" width="1" height="21" fill="#000"/>
<rect x="248" y="454" width="5" height="3" fill="#000"/>
<rect x="258" y="437" width="1" height="53" fill="#000"/>
<rect x="256" y="456" width="5" height="34" fill="#000"/>
<rect x="266" y="476" width="1" height="16" fill="#000"/>
<rect x="264" y="485" width="5" height="5" fill="#000"/>
<rect x="265" y="486" width="3" height="3" fill="#fff"/>
<rect x="274" y="480" width="1" height="10" fill="#000"/>
<rect x="272" y="483" width="5" height="2" fill="#000"/>
<rect x="282" y="469" width="1" height="22" fill="#000"/>
<rect x="280" y="471" width="5" height="13" fill="#000"/>
<rect x="281" y="472" width="3" height="11" fill="#fff"/>
<rect x="290" y="457" width="1" height="16" fill="#000"/>
<rect x="288" y="460" width="5" height="12" fill="#000"/>
<rect x="289" y="461" width="3" height="10" fill="#fff"/>
<rect x="298" y="443" width="1" height="34" fill="#000"/>
<rect x="296" y="460" width="5" height="2" fill="#000"/>
<rect x="306" y="453" width="1" height="40" fill="#000"/>
<rect x="304" y="461" width="5" height="24" fill="#000"/>
<rect x="314" y="474" width="1" height="14" fill="#000"/>
<rect x="312" y="484" width="5" height="2" fill="#000"/>
<rect x="322" y="473" width="1" height="13" fill="#000"/>
<rect x="320" y="474" width="5" height="11" fill="#000"/>
<rect x="321" y="475" width="3" height="9" fill="#fff"/>
<rect x="330" y="472" width="1" height="18" fill="#000"/>
<rect x="328" y="474" width="5" height="6" fill="#000"/>
<rect x="338" y="478" width="1" height="21" fill="#000"/>
<rect x="336" y="480" width="5" height="10" fill="#000"/>
<rect x="346" y="423" width="1" height="70" fill="#000"/>
<rect x="344" y="432" width="5" height="58" fill="#000"/>
<rect x="345" y="433" width="3" height="56" fill="#fff"/>
<rect x="354" y="377" width="1" height="56" fill="#000"/>
<rect x="352" y="387" width="5" height="45" fill="#000"/>
<rect x="353" y="388" width="3" height="43" fill="#fff"/>
<rect x="362" y="384" width="1" height="14" fill="#000"/>
<rect x="360" y="385" width="5" height="3" fill="#000"/>
<rect x="361" y="386" width="3" height="1" fill="#fff"/>
<rect x="370" y="382" width="1" height="6" fill="#000"/>
<rect x="368" y="385" width="5" height="1" fill="#000"/>
<rect x="378" y="374" width="1" height="15" fill="#000"/>
<rect x="376" y="378" width="5" height="6" fill="#000"/>
<rect x="377" y="379" width="3" height="4" fill="#fff"/>
<rect x="386" y="357" width="1" height="31" fill="#000"/>
<rect x="384" y="360" width="5" height="18" fill="#000"/>
<rect x="385" y="361" width="3" height="16" fill="#fff"/>
<rect x="394" y="352" width="1" height="14" fill="#000"/>
<rect x="392" y="361" width="5" height="2" fill="#000"/>
<rect x="402" y="348" width="1" height="30" fill="#000"/>
<rect x="400" y="360" width="5" height="3" fill="#000"/>
<rect x="401" y="361" width="3" height="1" fill="#fff"/>
<rect x="410" y="356" width="1" height="13" fill="#000"/>
<rect x="408" y="357" width="5" height="3" fill="#000"/>
<rect x="409" y="358" width="3" height="1" fill="#fff"/>
<rect x="418" y="351" width="1" height="9" fill="#000"/>
<rect x="416" y="357" width="5" height="3" fill="#000"/>
<rect x="426" y="355" width="1" height="11" fill="#000"/>
<rect x="424" y="360" width="5" height="3" fill="#000"/>
<rect x="434" y="357" width="1" height="17" fill="#000"/>
<rect x="432" y="362" width="5" height="4" fill="#000"/>
<rect x="442" y="363" width="1" height="39" fill="#000"/>
<rect x="440" y="366" width="5" height="24" fill="#000"/>
<rect x="450" y="367" width="1" height="36" fill="#000"/>
<rect x="448" y="389" width="5" height="12" fill="#000"/>
<rect x="458" y="380" width="1" height="22" fill="#000"/>
<rect x="456" y="388" width="5" height="13" fill="#000"/>
<rect x="457" y="389" width="3" height="11" fill="#fff"/>
<rect x="466" y="377" width="1" height="10" fill="#000"/>
<rect x="464" y="380" width="5" height="7" fill="#000"/>
<rect x="465" y="381" width="3" height="5" fill="#fff"/>
<rect x="474" y="376" width="1" height="10" fill="#000"/>
<rect x="472" y="380" width="5" height="2" fill="#000"/>
<rect x="482" y="357" width="1" height="27" fill="#000"/>
<rect x="480" y="365" width="5" height="18" fill="#000"/>
<rect x="481" y="366" width="3" height="16" fill="#fff"/>
<rect x="490" y="364" width="1" height="19" fill="#000"/>
<rect x="488" y="365" width="5" height="8" fill="#000"/>
<rect x="498" y="369" width="1" height="22" fill="#000"/>
<rect x="496" y="372" width="5" height="1" fill="#000"/>
<rect x="506" y="367" width="1" height="11" fill="#000"/>
<rect x="504" y="372" width="5" height="4" fill="#000"/>
<rect x="514" y="372" width="1" height="18" fill="#000"/>
<rect x="512" y="376" width="5" height="4" fill="#000"/>
<rect x="522" y="369" width="1" height="14" fill="#000"/>
<rect x="520" y="373" width="5" height="6" fill="#000"/>
<rect x="521" y="374" width="3" height="4" fill="#fff"/>
<rect x="530" y="368" width="1" height="14" fill="#000"/>
<rect x="528" y="373" width="5" height="8" fill="#000"/>
<rect x="538" y="351" width="1" height="37" fill="#000"/>
<rect x="536" y="361" width="5" height="19" fill="#000"/>
<rect x="537" y="362" width="3" height="17" fill="#fff"/>
<rect x="546" y="346" width="1" height="24" fill="#000"/>
<rect x="544" y="355" width="5" height="6" fill="#000"/>
<rect x="545" y="356" width="3" height="4" fill="#fff"/>
<rect x="554" y="323" width="1" height="36" fill="#000"/>
<rect x="552" y="330" width="5" height="24" fill="#000"/>
<rect x="553" y="331" width="3" height="22" fill="#fff"/>
<rect x="562" y="327" width="1" height="60" fill="#000"/>
<rect x="560" y="329" width="5" height="48" fill="#000"/>
<rect x="570" y="371" width="1" height="13" fill="#000"/>
<rect x="568" y="372" width="5" height="4" fill="#000"/>
<rect x="569" y="373" width="3" height="2" fill="#fff"/>
<rect x="578" y="366" width="1" height="26" fill="#000"/>
<rect x="576" y="372" width="5" height="16" fill="#000"/>
<rect x="586" y="364" width="1" height="27" fill="#000"/>
<rect x="584" y="367" width="5" height="21" fill="#000"/>
<rect x="585" y="368" width="3" height="19" fill="#fff"/>
<rect x="594" y="343" width="1" height="30" fill="#000"/>
<rect x="592" y="349" width="5" height="18" fill="#000"/>
<rect x="593" y="350" width="3" height="16" fill="#fff"/>
<rect x="602" y="343" width="1" height="13" fill="#000"/>
<rect x="600" y="346" width="5" height="4" fill="#000"/>
<rect x="601" y="347" width="3" height="2" fill="#fff"/>
<rect x="610" y="340" width="1" height="14" fill="#000"/>
<rect x="608" y="345" width="5" height="1" fill="#000"/>
<rect x="618" y="326" width="1" height="25" fill="#000"/>
<rect x="616" y="330" width="5" height="17" fill="#000"/>
<rect x="617" y="331" width="3" height="15" fill="#fff"/>
<rect x="626" y="324" width="1" height="15" fill="#000"/>
<rect x="624" y="325" width="5" height="5" fill="#000"/>
<rect x="625" y="326" width="3" height="3" fill="#fff"/>
<rect x="634" y="325" width="1" height="45" fill="#000"/>
<rect x="632" y="325" width="5" height="28" fill="#000"/>
<rect x="642" y="331" width="1" height="66" fill="#000"/>
<rect x="640" y="339" width="5" height="13" fill="#000"/>
<rect x="641" y="340" width="3" height="11" fill="#fff"/>
<rect x="650" y="323" width="1" height="64" fill="#000"/>
<rect x="648" y="326" width="5" height="13" fill="#000"/>
<rect x="649" y="327" width="3" height="11" fill="#fff"/>
<rect x="658" y="74" width="1" height="254" fill="#000"/>
<rect x="656" y="91" width="5" height="236" fill="#000"/>
<rect x="657" y="92" width="3" height="234" fill="#fff"/>
<rect x="666" y="57" width="1" height="47" fill="#000"/>
<rect x="664" y="73" width="5" height="18" fill="#000"/>
<rect x="665" y="74" width="3" height="16" fill="#fff"/>
<rect x="674" y="72" width="1" height="44" fill="#000"/>
<rect x="672" y="73" width="5" height="40" fill="#000"/>
<rect x="682" y="103" width="1" height="48" fill="#000"/>
<rect x="680" y="112" width="5" height="17" fill="#000"/>
<rect x="690" y="124" width="1" height="89" fill="#000"/>
<rect x="688" y="128" width="5" height="64" fill="#000"/>
<rect x="698" y="179" width="1" height="33" fill="#000"/>
<rect x="696" y="190" width="5" height="1" fill="#000"/>
<rect x="706" y="169" width="1" height="16" fill="#000"/>
<rect x="704" y="176" width="5" height="9" fill="#000"/>
<rect x="705" y="177" width="3" height="7" fill="#fff"/>
<rect x="714" y="143" width="1" height="34" fill="#000"/>
<rect x="712" y="149" width="5" height="27" fill="#000"/>
<rect x="713" y="150" width="3" height="25" fill="#fff"/>
<rect x="722" y="128" width="1" height="26" fill="#000"/>
<rect x="720" y="148" width="5" height="1" fill="#000"/>
<rect x="730" y="145" width="1" height="46" fill="#000"/>
<rect x="728" y="149" width="5" height="9" fill="#000"/>
<rect x="738" y="153" width="1" height="37" fill="#000"/>
<rect x="736" y="157" width="5" height="11" fill="#000"/>
<rect x="746" y="158" width="1" height="21" fill="#000"/>
<rect x="744" y="161" width="5" height="8" fill="#000"/>
<rect x="745" y="162" width="3" height="6" fill="#fff"/>
<rect x="754" y="156" width="1" height="80" fill="#000"/>
<rect x="752" y="160" width="5" height="56" fill="#000"/>
<rect x="762" y="198" width="1" height="22" fill="#000"/>
<rect x="760" y="200" width="5" height="14" fill="#000"/>
<rect x="761" y="201" width="3" height="12" fill="#fff"/>
<rect x="770" y="195" width="1" height="35" fill="#000"/>
<rect x="768" y="200" width="5" height="26" fill="#000"/>
<rect x="778" y="220" width="1" height="71" fill="#000"/>
<rect x="776" y="224" width="5" height="34" fill="#000"/>
<rect x="786" y="255" width="1" height="58" fill="#000"/>
<rect x="784" y="257" width="5" height="52" fill="#000"/>
<rect x="794" y="305" width="1" height="29" fill="#000"/>
<rect x="792" y="308" width="5" height="15" fill="#000"/>
<rect x="802" y="309" width="1" height="15" fill="#000"/>
<rect x="800" y="320" width="5" height="4" fill="#000"/>
<rect x="801" y="321" width="3" height="2" fill="#fff"/>
<rect x="810" y="319" width="1" height="41" fill="#000"/>
<rect x="808" y="320" width="5" height="18" fill="#000"/>
<rect x="818" y="321" width="1" height="33" fill="#000"/>
<rect x="816" y="338" width="5" height="11" fill="#000"/>
<rect x="826" y="321" width="1" height="35" fill="#000"/>
<rect x="824" y="337" width="5" height="11" fill="#000"/>
<rect x="825" y="338" width="3" height="9" fill="#fff"/>
<rect x="834" y="335" width="1" height="22" fill="#000"/>
<rect x="832" y="337" width="5" height="10" fill="#000"/>
<rect x="842" y="337" width="1" height="16" fill="#000"/>
<rect x="840" y="339" width="5" height="8" fill="#000"/>
<rect x="841" y="340" width="3" height="6" fill="#fff"/>
<rect x="850" y="338" width="1" height="11" fill="#000"/>
<rect x="848" y="340" width="5" height="3" fill="#000"/>
<rect x="858" y="334" width="1" height="13" fill="#000"/>
<rect x="856" y="339" width="5" height="3" fill="#000"/>
<rect x="857" y="340" width="3" height="1" fill="#fff"/>
<rect x="866" y="317" width="1" height="30" fill="#000"/>
<rect x="864" y="322" width="5" height="17" fill="#000"/>
<rect x="865" y="323" width="3" height="15" fill="#fff"/>
<rect x="874" y="310" width="1" height="64" fill="#000"/>
<rect x="872" y="322" width="5" height="38" fill="#000"/>
<rect x="882" y="316" width="1" height="99" fill="#000"/>
<rect x="880" y="362" width="5" height="40" fill="#000"/>
<rect x="890" y="399" width="1" height="29" fill="#000"/>
<rect x="888" y="401" width="5" height="13" fill="#000"/>
<rect x="898" y="401" width="1" height="17" fill="#000"/>
<rect x="896" y="402" width="5" height="11" fill="#000"/>
<rect x="897" y="403" width="3" height="9" fill="#fff"/>
<rect x="906" y="400" width="1" height="14" fill="#000"/>
<rect x="904" y="402" width="5" height="1" fill="#000"/>
<rect x="914" y="397" width="1" height="19" fill="#000"/>
<rect x="912" y="402" width="5" height="4" fill="#000"/>
<rect x="922" y="380" width="1" height="28" fill="#000"/>
<rect x="920" y="401" width="5" height="4" fill="#000"/>
<rect x="921" y="402" width="3" height="2" fill="#fff"/>
<rect x="930" y="360" width="1" height="44" fill="#000"/>
<rect x="928" y="375" width="5" height="27" fill="#000"/>
<rect x="929" y="376" width="3" height="25" fill="#fff"/>
<rect x="938" y="369" width="1" height="33" fill="#000"/>
<rect x="936" y="376" width="5" height="21" fill="#000"/>
<rect x="946" y="392" width="1" height="22" fill="#000"/>
<rect x="944" y="402" width="5" height="9" fill="#000"/>
<rect x="945" y="403" width="3" height="7" fill="#fff"/>
<rect x="954" y="399" width="1" height="10" fill="#000"/>
<rect x="952" y="400" width="5" height="6" fill="#000"/>
<rect x="962" y="395" width="1" height="15" fill="#000"/>
<rect x="960" y="402" width="5" height="3" fill="#000"/>
<rect x="961" y="403" width="3" height="1" fill="#fff"/>
<rect x="970" y="393" width="1" height="43" fill="#000"/>
<rect x="968" y="400" width="5" height="25" fill="#000"/>
<rect x="978" y="424" width="1" height="54" fill="#000"/>
<rect x="976" y="424" width="5" height="43" fill="#000"/>
<rect x="986" y="455" width="1" height="21" fill="#000"/>
<rect x="984" y="457" width="5" height="9" fill="#000"/>
<rect x="985" y="458" width="3" height="7" fill="#fff"/>
<rect x="994" y="451" width="1" height="9" fill="#000"/>
<rect x="992" y="454" width="5" height="3" fill="#000"/>
<rect x="993" y="455" width="3" height="1" fill="#fff"/>
<rect x="1002" y="449" width="1" height="9" fill="#000"/>
<rect x="1000" y="452" width="5" height="3" fill="#000"/>
<rect x="1001" y="453" width="3" height="1" fill="#fff"/>
<rect x="1010" y="449" width="1" height="19" fill="#000"/>
<rect x="1008" y="451" width="5" height="15" fill="#000"/>
<rect x="1018" y="443" width="1" height="26" fill="#000"/>
<rect x="1016" y="451" width="5" height="14" fill="#000"/>
<rect x="1017" y="452" width="3" height="12" fill="#fff"/>
<rect x="1026" y="439" width="1" height="16" fill="#000"/>
<rect x="1024" y="446" width="5" height="5" fill="#000"/>
<rect x="1025" y="447" width="3" height="3" fill="#fff"/>
<rect x="1034" y="435" width="1" height="15" fill="#000"/>
<rect x="1032" y="446" width="5" height="2" fill="#000"/>
<rect x="1042" y="442" width="1" height="38" fill="#000"/>
<rect x="1040" y="447" width="5" height="19" fill="#000"/>
<rect x="1050" y="432" width="1" height="5" fill="#000"/>
<rect x="1048" y="435" width="5" height="1" fill="#000"/>
<rect x="1058" y="403" width="1" height="34" fill="#000"/>
<rect x="1056" y="410" width="5" height="26" fill="#000"/>
<rect x="1057" y="411" width="3" height="24" fill="#fff"/>
<rect x="1066" y="402" width="1" height="10" fill="#000"/>
<rect x="1064" y="407" width="5" height="4" fill="#000"/>
<rect x="1065" y="408" width="3" height="2" fill="#fff"/>
<rect x="1074" y="405" width="1" height="21" fill="#000"/>
<rect x="1072" y="406" width="5" height="18" fill="#000"/>
<rect x="1082" y="393" width="1" height="31" fill="#000"/>
<rect x="1080" y="393" width="5" height="31" fill="#000"/>
<rect x="1081" y="394" width="3" height="29" fill="#fff"/>
<rect x="1090" y="381" width="1" height="14" fill="#000"/>
<rect x="1088" y="388" width="5" height="5" fill="#000"/>
<rect x="1089" y="389" width="3" height="3" fill="#fff"/>
<rect x="1098" y="387" width="1" height="13" fill="#000"/>
<rect x="1096" y="387" width="5" height="9" fill="#000"/>
<rect x="1106" y="393" width="1" height="31" fill="#000"/>
<rect x="1104" y="394" width="5" height="9" fill="#000"/>
<rect x="1114" y="371" width="1" height="34" fill="#000"/>
<rect x="1112" y="371" width="5" height="32" fill="#000"/>
<rect x="1113" y="372" width="3" height="30" fill="#fff"/>
<rect x="1122" y="347" width="1" height="38" fill="#000"/>
<rect x="1120" y="348" width="5" height="24" fill="#000"/>
<rect x="1121" y="349" width="3" height="22" fill="#fff"/>
<rect x="1130" y="324" width="1" height="24" fill="#000"/>
<rect x="1128" y="332" width="5" height="16" fill="#000"/>
<rect x="1129" y="333" width="3" height="14" fill="#fff"/>
<rect x="1138" y="331" width="1" height="19" fill="#000"/>
<rect x="1136" y="331" width="5" height="16" fill="#000"/>
<rect x="1146" y="341" width="1" height="22" fill="#000"/>
<rect x="1144" y="348" width="5" height="14" fill="#000"/>
<rect x="1145" y="349" width="3" height="12" fill="#fff"/>
<rect x="1154" y="340" width="1" height="23" fill="#000"/>
<rect x="1152" y="348" width="5" height="4" fill="#000"/>
<rect x="1162" y="348" width="1" height="16" fill="#000"/>
<rect x="1160" y="349" width="5" height="3" fill="#000"/>
<rect x="1161" y="350" width="3" height="1" fill="#fff"/>
<rect x="1170" y="347" width="1" height="26" fill="#000"/>
<rect x="1168" y="349" width="5" height="1" fill="#000"/>
<rect x="1178" y="337" width="1" height="41" fill="#000"/>
<rect x="1176" y="348" width="5" height="19" fill="#000"/>
<rect x="1186" y="355" width="1" height="26" fill="#000"/>
<rect x="1184" y="367" width="5" height="13" fill="#000"/>
<rect x="1194" y="373" width="1" height="17" fill="#000"/>
<rect x="1192" y="379" width="5" height="1" fill="#000"/>
<rect x="1202" y="374" width="1" height="15" fill="#000"/>
<rect x="1200" y="379" width="5" height="6" fill="#000"/>
<rect x="1210" y="377" width="1" height="23" fill="#000"/>
<rect x="1208" y="378" width="5" height="7" fill="#000"/>
<rect x="1209" y="379" width="3" height="5" fill="#fff"/>
<rect x="1218" y="337" width="1" height="55" fill="#000"/>
<rect x="1216" y="338" width="5" height="40" fill="#000"/>
<rect x="1217" y="339" width="3" height="38" fill="#fff"/>
<rect x="1226" y="302" width="1" height="53" fill="#000"/>
<rect x="1224" y="307" width="5" height="31" fill="#000"/>
<rect x="1225" y="308" width="3" height="29" fill="#fff"/>
<rect x="1234" y="280" width="1" height="36" fill="#000"/>
<rect x="1232" y="307" width="5" height="5" fill="#000"/>
<rect x="1242" y="293" width="1" height="24" fill="#000"/>
<rect x="1240" y="305" width="5" height="7" fill="#000"/>
<rect x="1241" y="306" width="3" height="5" fill="#fff"/>
<rect x="1250" y="296" width="1" height="13" fill="#000"/>
<rect x="1248" y="298" width="5" height="8" fill="#000"/>
<rect x="1249" y="299" width="3" height="6" fill="#fff"/>
<rect x="1258" y="290" width="1" height="43" fill="#000"/>
<rect x="1256" y="298" width="5" height="29" fill="#000"/>
<rect x="1266" y="307" width="1" height="24" fill="#000"/>
<rect x="1264" y="315" width="5" height="12" fill="#000"/>
<rect x="1265" y="316" width="3" height="10" fill="#fff"/>
<rect x="1274" y="305" width="1" height="29" fill="#000"/>
<rect x="1272" y="313" width="5" height="15" fill="#000"/>
<rect x="1282" y="317" width="1" height="68" fill="#000"/>
<rect x="1280" y="328" width="5" height="49" fill="#000"/>
<rect x="1290" y="375" width="1" height="34" fill="#000"/>
<rect x="1288" y="376" width="5" height="26" fill="#000"/>
<rect x="1298" y="377" width="1" height="25" fill="#000"/>
<rect x="1296" y="382" width="5" height="20" fill="#000"/>
<rect x="1297" y="383" width="3" height="18" fill="#fff"/>
<rect x="1306" y="379" width="1" height="61" fill="#000"/>
<rect x="1304" y="383" width="5" height="37" fill="#000"/>
<rect x="1314" y="415" width="1" height="61" fill="#000"/>
<rect x="1312" y="419" width="5" height="50" fill="#000"/>
<rect x="1322" y="443" width="1" height="45" fill="#000"/>
<rect x="1320" y="467" width="5" height="17" fill="#000"/>
<rect x="1330" y="441" width="1" height="46" fill="#000"/>
<rect x="1328" y="474" width="5" height="10" fill="#000"/>
<rect x="1329" y="475" width="3" height="8" fill="#fff"/>
<rect x="1338" y="463" width="1" height="24" fill="#000"/>
<rect x="1336" y="471" width="5" height="3" fill="#000"/>
<rect x="1337" y="472" width="3" height="1" fill="#fff"/>
<rect x="1346" y="472" width="1" height="26" fill="#000"/>
<rect x="1344" y="475" width="5" height="20" fill="#000"/>
<rect x="1345" y="476" width="3" height="18" fill="#fff"/>
<rect x="1354" y="457" width="1" height="23" fill="#000"/>
<rect x="1352" y="465" width="5" height="10" fill="#000"/>
<rect x="1353" y="466" width="3" height="8" fill="#fff"/>
<rect x="1362" y="451" width="1" height="30" fill="#000"/>
<rect x="1360" y="465" width="5" height="3" fill="#000"/>
<rect x="1370" y="398" width="1" height="80" fill="#000"/>
<rect x="1368" y="415" width="5" height="51" fill="#000"/>
<rect x="1369" y="416" width="3" height="49" fill="#fff"/>
<rect x="1378" y="389" width="1" height="39" fill="#000"/>
<rect x="1376" y="393" width="5" height="22" fill="#000"/>
<rect x="1377" y="394" width="3" height="20" fill="#fff"/>
<rect x="1386" y="377" width="1" height="17" fill="#000"/>
<rect x="1384" y="378" width="5" height="15" fill="#000"/>
<rect x="1385" y="379" width="3" height="13" fill="#fff"/>
<rect x="1394" y="377" width="1" height="7" fill="#000"/>
<rect x="1392" y="378" width="5" height="3" fill="#000"/>
<rect x="1393" y="379" width="3" height="1" fill="#fff"/>
</g>
<rect x="1265" y="394" width="161" height="8" fill="#00ff00"/>
<g shape-rendering="crispEdges">
<rect x="2" y="690" width="1" height="12" fill="#c0c0c0"/>
<rect x="10" y="690" width="1" height="9" fill="#c0c0c0"/>
<rect x="18" y="690" width="1" height="4" fill="#c0c0c0"/>
<rect x="26" y="690" width="1" height="1" fill="#c0c0c0"/>
<rect x="34" y="688" width="1" height="3" fill="#c0c0c0"/>
<rect x="42" y="686" width="1" height="5" fill="#c0c0c0"/>
<rect x="50" y="686" width="1" height="5" fill="#c0c0c0"/>
<rect x="58" y="686" width="1" height="5" fill="#c0c0c0"/>
<rect x="66" y="689" width="1" height="2" fill="#c0c0c0"/>
<rect x="74" y="689" width="1" height="2" fill="#c0c0c0"/>
<rect x="82" y="688" width="1" height="3" fill="#c0c0c0"/>
<rect x="90" y="688" width="1" height="3" fill="#c0c0c0"/>
<rect x="98" y="689" width="1" height="2" fill="#c0c0c0"/>
<rect x="106" y="687" width="1" height="4" fill="#c0c0c0"/>
<rect x="114" y="683" width="1" height="8" fill="#c0c0c0"/>
<rect x="122" y="675" width="1" height="16" fill="#c0c0c0"/>
<rect x="130" y="670" width="1" height="21" fill="#c0c0c0"/>
<rect x="138" y="666" width="1" height="25" fill="#c0c0c0"/>
<rect x="146" y="662" width="1" height="29" fill="#c0c0c0"/>
<rect x="154" y="660" width="1" height="31" fill="#c0c0c0"/>
<rect x="162" y="660" width="1" height="31" fill="#c0c0c0"/>
<rect x="170" y="660" width="1" height="31" fill="#c0c0c0"/>
<rect x="178" y="660" width="1" height="31" fill="#c0c0c0"/>
<rect x="186" y="661" width="1" height="30" fill="#c0c0c0"/>
<rect x="194" y="662" width="1" height="29" fill="#c0c0c0"/>
<rect x="202" y="663" width="1" height="28" fill="#c0c0c0"/>
<rect x="210" y="662" width="1" height="29" fill="#c0c0c0"/>
<rect x="218" y="662" width="1" height="29" fill="#c0c0c0"/>
<rect x="226" y="663" width="1" height="28" fill="#c0c0c0"/>
<rect x="234" y="663" width="1" height="28" fill="#c0c0c0"/>
<rect x="242" y="664" width="1" height="27" fill="#c0c0c0"/>
<rect x="250" y="666" width="1" height="25" fill="#c0c0c0"/>
<rect x="258" y="671" width="1" height="20" fill="#c0c0c0"/>
<rect x="266" y="675" width="1" height="16" fill="#c0c0c0"/>
<rect x="274" y="678" width="1" height="13" fill="#c0c0c0"/>
<rect x="282" y="679" width="1" height="12" fill="#c0c0c0"/>
<rect x="290" y="679" width="1" height="12" fill="#c0c0c0"/>
<rect x="298" y="679" width="1" height="12" fill="#c0c0c0"/>
<rect x="306" y="682" width="1" height="9" fill="#c0c0c0"/>
<rect x="314" y="684" width="1" height="7" fill="#c0c0c0"/>
<rect x="322" y="685" width="1" height="6" fill="#c0c0c0"/>
<rect x="330" y="686" width="1" height="5" fill="#c0c0c0"/>
<rect x="338" y="688" width="1" height="3" fill="#c0c0c0"/>
<rect x="346" y="683" width="1" height="8" fill="#c0c0c0"/>
<rect x="354" y="674" width="1" height="17" fill="#c0c0c0"/>
<rect x="362" y="667" width="1" height="24" fill="#c0c0c0"/>
<rect x="370" y="661" width="1" height="30" fill="#c0c0c0"/>
<rect x="378" y="657" width="1" height="34" fill="#c0c0c0"/>
<rect x="386" y="651" width="1" height="40" fill="#c0c0c0"/>
<rect x="394" y="648" width="1" height="43" fill="#c0c0c0"/>
<rect x="402" y="645" width="1" height="46" fill="#c0c0c0"/>
<rect x="410" y="643" width="1" height="48" fill="#c0c0c0"/>
<rect x="418" y="643" width="1" height="48" fill="#c0c0c0"/>
<rect x="426" y="643" width="1" height="48" fill="#c0c0c0"/>
<rect x="434" y="645" width="1" height="46" fill="#c0c0c0"/>
<rect x="442" y="649" width="1" height="42" fill="#c0c0c0"/>
<rect x="450" y="654" width="1" height="37" fill="#c0c0c0"/>
<rect x="458" y="657" width="1" height="34" fill="#c0c0c0"/>
<rect x="466" y="659" width="1" height="32" fill="#c0c0c0"/>
<rect x="474" y="661" width="1" height="30" fill="#c0c0c0"/>
<rect x="482" y="661" width="1" height="30" fill="#c0c0c0"/>
<rect x="490" y="662" width="1" height="29" fill="#c0c0c0"/>
<rect x="498" y="663" width="1" height="28" fill="#c0c0c0"/>
<rect x="506" y="665" width="1" height="26" fill="#c0c0c0"/>
<rect x="514" y="667" width="1" height="24" fill="#c0c0c0"/>
<rect x="522" y="668" width="1" height="23" fill="#c0c0c0"/>
<rect x="530" y="670" width="1" height="21" fill="#c0c0c0"/>
<rect x="538" y="669" width="1" height="22" fill="#c0c0c0"/>
<rect x="546" y="668" width="1" height="23" fill="#c0c0c0"/>
<rect x="554" y="666" width="1" height="25" fill="#c0c0c0"/>
<rect x="562" y="668" width="1" height="23" fill="#c0c0c0"/>
<rect x="570" y="671" width="1" height="20" fill="#c0c0c0"/>
<rect x="578" y="675" width="1" height="16" fill="#c0c0c0"/>
<rect x="586" y="675" width="1" height="16" fill="#c0c0c0"/>
<rect x="594" y="674" width="1" height="17" fill="#c0c0c0"/>
<rect x="602" y="673" width="1" height="18" fill="#c0c0c0"/>
<rect x="610" y="672" width="1" height="19" fill="#c0c0c0"/>
<rect x="618" y="669" width="1" height="22" fill="#c0c0c0"/>
<rect x="626" y="667" width="1" height="24" fill="#c0c0c0"/>
<rect x="634" y="669" width="1" height="22" fill="#c0c0c0"/>
<rect x="642" y="669" width="1" height="22" fill="#c0c0c0"/>
<rect x="650" y="668" width="1" height="23" fill="#c0c0c0"/>
<rect x="658" y="640" width="1" height="51" fill="#c0c0c0"/>
<rect x="666" y="616" width="1" height="75" fill="#c0c0c0"/>
<rect x="674" y="603" width="1" height="88" fill="#c0c0c0"/>
<rect x="682" y="595" width="1" height="96" fill="#c0c0c0"/>
<rect x="690" y="598" width="1" height="93" fill="#c0c0c0"/>
<rect x="698" y="601" width="1" height="90" fill="#c0c0c0"/>
<rect x="706" y="602" width="1" height="89" fill="#c0c0c0"/>
<rect x="714" y="602" width="1" height="89" fill="#c0c0c0"/>
<rect x="722" y="602" width="1" height="89" fill="#c0c0c0"/>
<rect x="730" y="604" width="1" height="87" fill="#c0c0c0"/>
<rect x="738" y="608" width="1" height="83" fill="#c0c0c0"/>
<rect x="746" y="611" width="1" height="80" fill="#c0c0c0"/>
<rect x="754" y="622" width="1" height="69" fill="#c0c0c0"/>
<rect x="762" y="628" width="1" height="63" fill="#c0c0c0"/>
<rect x="770" y="637" width="1" height="54" fill="#c0c0c0"/>
<rect x="778" y="649" width="1" height="42" fill="#c0c0c0"/>
<rect x="786" y="664" width="1" height="27" fill="#c0c0c0"/>
<rect x="794" y="679" width="1" height="12" fill="#c0c0c0"/>
<rect x="802" y="689" width="1" height="2" fill="#c0c0c0"/>
<rect x="810" y="690" width="1" height="9" fill="#c0c0c0"/>
<rect x="818" y="690" width="1" height="19" fill="#c0c0c0"/>
<rect x="826" y="690" width="1" height="25" fill="#c0c0c0"/>
<rect x="834" y="690" width="1" height="30" fill="#c0c0c0"/>
<rect x="842" y="690" width="1" height="33" fill="#c0c0c0"/>
<rect x="850" y="690" width="1" height="36" fill="#c0c0c0"/>
<rect x="858" y="690" width="1" height="37" fill="#c0c0c0"/>
<rect x="866" y="690" width="1" height="35" fill="#c0c0c0"/>
<rect x="874" y="690" width="1" height="38" fill="#c0c0c0"/>
<rect x="882" y="690" width="1" height="45" fill="#c0c0c0"/>
<rect x="890" y="690" width="1" height="51" fill="#c0c0c0"/>
<rect x="898" y="690" width="1" height="54" fill="#c0c0c0"/>
<rect x="906" y="690" width="1" height="55" fill="#c0c0c0"/>
<rect x="914" y="690" width="1" height="56" fill="#c0c0c0"/>
<rect x="922" y="690" width="1" height="56" fill="#c0c0c0"/>
<rect x="930" y="690" width="1" height="52" fill="#c0c0c0"/>
<rect x="938" y="690" width="1" height="50" fill="#c0c0c0"/>
<rect x="946" y="690" width="1" height="50" fill="#c0c0c0"/>
<rect x="954" y="690" width="1" height="49" fill="#c0c0c0"/>
<rect x="962" y="690" width="1" height="47" fill="#c0c0c0"/>
<rect x="970" y="690" width="1" height="48" fill="#c0c0c0"/>
<rect x="978" y="690" width="1" height="53" fill="#c0c0c0"/>
<rect x="986" y="690" width="1" height="56" fill="#c0c0c0"/>
<rect x="994" y="690" width="1" height="56" fill="#c0c0c0"/>
<rect x="1002" y="690" width="1" height="56" fill="#c0c0c0"/>
<rect x="1010" y="690" width="1" height="57" fill="#c0c0c0"/>
<rect x="1018" y="690" width="1" height="55" fill="#c0c0c0"/>
<rect x="1026" y="690" width="1" height="52" fill="#c0c0c0"/>
<rect x="1034" y="690" width="1" height="50" fill="#c0c0c0"/>
<rect x="1042" y="690" width="1" height="50" fill="#c0c0c0"/>
<rect x="1050" y="690" width="1" height="45" fill="#c0c0c0"/>
<rect x="1058" y="690" width="1" height="38" fill="#c0c0c0"/>
<rect x="1066" y="690" width="1" height="32" fill="#c0c0c0"/>
<rect x="1074" y="690" width="1" height="29" fill="#c0c0c0"/>
<rect x="1082" y="690" width="1" height="22" fill="#c0c0c0"/>
<rect x="1090" y="690" width="1" height="16" fill="#c0c0c0"/>
<rect x="1098" y="690" width="1" height="12" fill="#c0c0c0"/>
<rect x="1106" y="690" width="1" height="10" fill="#c0c0c0"/>
<rect x="1114" y="690" width="1" height="4" fill="#c0c0c0"/>
<rect x="1122" y="688" width="1" height="3" fill="#c0c0c0"/>
<rect x="1130" y="680" width="1" height="11" fill="#c0c0c0"/>
<rect x="1138" y="676" width="1" height="15" fill="#c0c0c0"/>
<rect x="1146" y="673" width="1" height="18" fill="#c0c0c0"/>
<rect x="1154" y="672" width="1" height="19" fill="#c0c0c0"/>
<rect x="1162" y="670" width="1" height="21" fill="#c0c0c0"/>
<rect x="1170" y="670" width="1" height="21" fill="#c0c0c0"/>
<rect x="1178" y="671" width="1" height="20" fill="#c0c0c0"/>
<rect x="1186" y="674" width="1" height="17" fill="#c0c0c0"/>
<rect x="1194" y="677" width="1" height="14" fill="#c0c0c0"/>
<rect x="1202" y="680" width="1" height="11" fill="#c0c0c0"/>
<rect x="1210" y="681" width="1" height="10" fill="#c0c0c0"/>
<rect x="1218" y="678" width="1" height="13" fill="#c0c0c0"/>
<rect x="1226" y="672" width="1" height="19" fill="#c0c0c0"/>
<rect x="1234" y="668" width="1" height="23" fill="#c0c0c0"/>
<rect x="1242" y="664" width="1" height="27" fill="#c0c0c0"/>
<rect x="1250" y="660" width="1" height="31" fill="#c0c0c0"/>
<rect x="1258" y="662" width="1" height="29" fill="#c0c0c0"/>
<rect x="1266" y="661" width="1" height="30" fill="#c0c0c0"/>
<rect x="1274" y="663" width="1" height="28" fill="#c0c0c0"/>
<rect x="1282" y="670" width="1" height="21" fill="#c0c0c0"/>
<rect x="1290" y="678" width="1" height="13" fill="#c0c0c0"/>
<rect x="1298" y="684" width="1" height="7" fill="#c0c0c0"/>
<rect x="1306" y="690" width="1" height="1" fill="#c0c0c0"/>
<rect x="1314" y="690" width="1" height="14" fill="#c0c0c0"/>
<rect x="1322" y="690" width="1" height="25" fill="#c0c0c0"/>
<rect x="1330" y="690" width="1" height="32" fill="#c0c0c0"/>
<rect x="1338" y="690" width="1" height="38" fill="#c0c0c0"/>
<rect x="1346" y="690" width="1" height="42" fill="#c0c0c0"/>
<rect x="1354" y="690" width="1" height="43" fill="#c0c0c0"/>
<rect x="1362" y="690" width="1" height="44" fill="#c0c0c0"/>
<rect x="1370" y="690" width="1" height="38" fill="#c0c0c0"/>
<rect x="1378" y="690" width="1" height="31" fill="#c0c0c0"/>
<rect x="1386" y="690" width="1" height="23" fill="#c0c0c0"/>
<rect x="1394" y="690" width="1" height="16" fill="#c0c0c0"/>
</g>
<path d="M736 601.5h3M741 601.5h3M746 601.5h1M731 602.5h3M747 602.5h2M726 603.5h3M751 604.5h2M722 605.5h2M753 605.5h1M721 606.5h1M756 606.5h3M761 607.5h2M763 608.5h1M718 609.5h1M766 609.5h1M717 610.5h1M767 610.5h2M716 611.5h1M771 612.5h2M773 613.5h1M712 614.5h2M711 615.5h1M776 615.5h2M778 616.5h1M708 617.5h1M707 618.5h1M706 619.5h1M781 619.5h1M782 620.5h2M703 622.5h1M702 623.5h1M786 623.5h1M701 624.5h1M787 624.5h1M788 625.5h1M698 627.5h1M697 628.5h1M790 628.5h1M696 629.5h1M791 629.5h1M792 630.5h1M693 632.5h1M692 633.5h1M795 633.5h1M691 634.5h1M796.5 634v2M688 637.5h1M687 638.5h1M799 638.5h1M686 639.5h1M800.5 639v2M683 642.5h1M682 643.5h1M803 643.5h1M681 644.5h1M804 644.5h1M805 645.5h1M438 646.5h2M442 646.5h3M447 646.5h3M452 646.5h3M457 646.5h3M433 647.5h2M437 647.5h1M462 647.5h2M678.5 647v2M432 648.5h1M464 648.5h1M467 648.5h3M807 648.5h1M428 649.5h2M472 649.5h3M677 649.5h1M808 649.5h1M427 650.5h1M477 650.5h3M809 650.5h1M422 651.5h3M482 651.5h2M484 652.5h1M487 652.5h1M674 652.5h1M417 653.5h3M488 653.5h2M673 653.5h1M811 653.5h1M492 654.5h2M672 654.5h1M812 654.5h1M413 655.5h2M494 655.5h1M813 655.5h1M412 656.5h1M497 656.5h3M669 656.5h1M502 657.5h2M668 657.5h1M408 658.5h2M504 658.5h1M507 658.5h1M667 658.5h1M815 658.5h1M407 659.5h1M508 659.5h2M816 659.5h1M198 660.5h2M202 660.5h3M207 660.5h3M212 660.5h3M217 660.5h3M222 660.5h3M227 660.5h3M512 660.5h3M817 660.5h1M192 661.5h3M197 661.5h1M232 661.5h3M237 661.5h3M242 661.5h3M404 661.5h1M517 661.5h3M664 661.5h1M187 662.5h3M247 662.5h3M252 662.5h2M403 662.5h1M522 662.5h3M662 662.5h2M182 663.5h3M254 663.5h1M257 663.5h3M402 663.5h1M527 663.5h3M532 663.5h2M819.5 663v2M262 664.5h3M267 664.5h1M399 664.5h1M534 664.5h1M537 664.5h3M177 665.5h3M268 665.5h2M397 665.5h2M542 665.5h3M547 665.5h3M552 665.5h3M557 665.5h1M659 665.5h1M820 665.5h1M1281 665.5h3M1286 665.5h3M1291 665.5h1M174 666.5h1M272 666.5h3M558 666.5h2M562 666.5h3M657 666.5h2M1276 666.5h3M1292 666.5h2M172 667.5h2M277 667.5h3M393 667.5h2M567 667.5h3M572 667.5h2M654 667.5h1M1271 667.5h3M1296 667.5h3M169 668.5h1M282 668.5h2M392 668.5h1M574 668.5h1M577 668.5h3M652 668.5h2M822 668.5h1M1266 668.5h3M1301 668.5h3M167 669.5h2M284 669.5h1M287 669.5h1M389 669.5h1M582 669.5h3M587 669.5h3M648 669.5h2M823 669.5h1M1262 669.5h2M1306 669.5h1M164 670.5h1M288 670.5h2M387 670.5h2M592 670.5h3M597 670.5h3M602 670.5h3M607 670.5h3M612 670.5h3M617 670.5h3M622 670.5h3M627 670.5h3M644 670.5h1M647 670.5h1M824 670.5h1M1261 670.5h1M1307 670.5h2M162 671.5h2M292 671.5h3M632 671.5h3M637 671.5h3M642 671.5h2M1256 671.5h3M157 672.5h3M297 672.5h3M384 672.5h1M1246 672.5h3M1251 672.5h3M1311 672.5h1M154 673.5h1M302 673.5h3M307 673.5h1M382 673.5h2M826 673.5h1M1191 673.5h3M1196 673.5h3M1201 673.5h3M1206 673.5h3M1211 673.5h3M1231 673.5h3M1236 673.5h3M1241 673.5h3M1312 673.5h2M152 674.5h2M308 674.5h2M827 674.5h1M1186 674.5h3M1216 674.5h3M1221 674.5h3M1226 674.5h3M312 675.5h1M379 675.5h1M828 675.5h1M1181 675.5h3M1316 675.5h1M149 676.5h1M313 676.5h2M377 676.5h2M1177 676.5h2M1317 676.5h1M147 677.5h2M317 677.5h3M372 677.5h3M1176 677.5h1M1318 677.5h1M322 678.5h3M367 678.5h3M830 678.5h1M1172 678.5h2M1321 678.5h1M142 679.5h3M327 679.5h3M332 679.5h2M362 679.5h3M831 679.5h1M1171 679.5h1M1322 679.5h1M334 680.5h1M337 680.5h3M357 680.5h3M832 680.5h1M1167 680.5h2M1323 680.5h1M137 681.5h3M342 681.5h3M347 681.5h3M352 681.5h3M1166 681.5h1M132 682.5h3M1163 682.5h1M127 683.5h3M835 683.5h1M1162 683.5h1M1326 683.5h2M122 684.5h3M836.5 684v2M1161 684.5h1M1328 684.5h1M117 685.5h3M1158 685.5h1M102 686.5h3M107 686.5h3M112 686.5h3M1157 686.5h1M87 687.5h3M92 687.5h3M97 687.5h3M1156 687.5h1M1331 687.5h1M78 688.5h2M82 688.5h3M839 688.5h1M1153 688.5h1M1332 688.5h1M72 689.5h3M77 689.5h1M840.5 689v2M1151 689.5h2M1333 689.5h1M64 690.5h1M67 690.5h3M62 691.5h2M1147 691.5h2M57 692.5h3M1146 692.5h1M1336 692.5h1M54 693.5h1M843 693.5h1M1337 693.5h1M52 694.5h2M844.5 694v2M1142 694.5h2M1338 694.5h1M47 695.5h3M1141 695.5h1M42 696.5h3M2 697.5h2M38 697.5h2M1138 697.5h1M1341 697.5h1M4 698.5h1M7 698.5h1M37 698.5h1M847 698.5h1M1136 698.5h2M1342 698.5h2M8 699.5h2M12 699.5h3M17 699.5h3M32 699.5h3M848.5 699v2M22 700.5h3M27 700.5h3M1133 700.5h1M1131 701.5h2M1346 701.5h1M1347 702.5h1M851 703.5h1M1348 703.5h1M852 704.5h1M1128 704.5h1M853 705.5h1M1126 705.5h2M1351 706.5h1M856 707.5h1M1352 707.5h1M857 708.5h1M1123 708.5h1M1353 708.5h1M858 709.5h1M1122 709.5h1M1121 710.5h1M861 711.5h1M1118 711.5h1M1356 711.5h1M862 712.5h2M1117 712.5h1M1357 712.5h1M1116 713.5h1M1358 713.5h1M866 714.5h1M867 715.5h2M1112 715.5h2M1361 715.5h1M1111 716.5h1M1362 716.5h1M871 717.5h1M1363 717.5h1M872 718.5h2M1107 718.5h2M1366 718.5h1M1106 719.5h1M1367 719.5h2M876 720.5h1M1103 720.5h1M1371 720.5h1M877 721.5h2M1101 721.5h2M1372 721.5h2M1376 722.5h1M881 723.5h3M1097 723.5h2M1377 723.5h2M1096 724.5h1M1381 724.5h3M1391 724.5h3M886 725.5h3M1093 725.5h1M1386 725.5h3M1091 726.5h2M891 727.5h2M893 728.5h1M1088 728.5h1M896 729.5h1M1086 729.5h2M897 730.5h2M901 731.5h1M1083 731.5h1M902 732.5h2M1081 732.5h2M906 733.5h2M1078 733.5h1M908 734.5h1M911 734.5h1M1076 734.5h2M912 735.5h2M916 735.5h2M1073 735.5h1M918 736.5h1M921 736.5h3M1071 736.5h2M1068 737.5h1M926 738.5h3M1066 738.5h2M931 739.5h3M1061 739.5h3M936 740.5h3M1057 740.5h2M941 741.5h3M976 741.5h3M981 741.5h3M986 741.5h3M991 741.5h3M996 741.5h2M1056 741.5h1M946 742.5h3M958 742.5h1M961 742.5h3M966 742.5h3M971 742.5h3M998 742.5h1M1001 742.5h3M1052 742.5h2M951 743.5h3M956 743.5h2M1006 743.5h3M1011 743.5h3M1016 743.5h3M1021 743.5h1M1046 743.5h3M1051 743.5h1M1022 744.5h2M1026 744.5h3M1031 744.5h3M1036 744.5h3M1041 744.5h3" stroke="#ff0000" stroke-width="1" fill="none" shape-rendering="crispEdges"/>
<line x1="2" y1="793.5" x2="1621" y2="793.5" stroke="#c0c0c0" stroke-width="1" stroke-dasharray="3 3" shape-rendering="crispEdges"/>
<line x1="2" y1="844.5" x2="1621" y2="844.5" stroke="#c0c0c0" stroke-width="1" stroke-dasharray="3 3" shape-rendering="crispEdges"/>
<line x1="2" y1="905.5" x2="1621" y2="905.5" stroke="#c0c0c0" stroke-width="1" stroke-dasharray="3 3" shape-rendering="crispEdges"/>
<path d="M662 785.5h5M658 786.5h4M667.5 786v2M658.5 787v2M668.5 788v2M657.5 789v5M669.5 790v2M670 792.5h1M671.5 793v2M656.5 794v5M672.5 795v2M673.5 797v2M655.5 799v5M674 799.5h1M675 800.5h2M677 801.5h1M386 802.5h4M406 802.5h6M678 802.5h2M384 803.5h2M390 803.5h16M412 803.5h2M680 803.5h2M382 804.5h2M414 804.5h3M654.5 804v4M682.5 804v2M381 805.5h1M417 805.5h5M379 806.5h2M422 806.5h6M683.5 806v2M376 807.5h3M428 807.5h2M358 808.5h8M372 808.5h4M430 808.5h3M653.5 808v5M684.5 808v2M122 809.5h1M354 809.5h4M366 809.5h6M433 809.5h2M554.5 809v2M121.5 810v2M123 810.5h2M145 810.5h2M353.5 810v2M434 810.5h1M553 810.5h1M685.5 810v3M125 811.5h1M142 811.5h3M147 811.5h1M435.5 811v2M552.5 811v2M555.5 811v4M120.5 812v2M126 812.5h2M140 812.5h2M148.5 812v2M352.5 812v2M128 813.5h2M134 813.5h6M436.5 813v3M551 813.5h1M652.5 813v5M686.5 813v2M1248 813.5h3M119.5 814v2M130 814.5h4M149 814.5h1M351 814.5h1M550 814.5h1M1244 814.5h4M1250 814.5h1M150 815.5h1M350.5 815v2M549 815.5h1M556.5 815v4M687.5 815v3M1226 815.5h2M1240 815.5h4M1251.5 815v2M118 816.5h1M151 816.5h1M437.5 816v2M548.5 816v2M713 816.5h11M1225 816.5h1M1228 816.5h4M1236 816.5h4M117.5 817v2M152.5 817v2M210 817.5h2M349 817.5h1M711 817.5h2M724 817.5h2M1224.5 817v2M1232 817.5h4M1252.5 817v2M209 818.5h1M212 818.5h4M348.5 818v2M438.5 818v3M547 818.5h1M651.5 818v5M688.5 818v2M709 818.5h2M726 818.5h3M1130 818.5h1M116.5 819v2M153 819.5h1M208 819.5h1M216 819.5h3M545 819.5h2M557.5 819v4M707 819.5h2M729 819.5h2M1128 819.5h2M1131 819.5h1M1223 819.5h1M1253.5 819v2M154 820.5h2M192 820.5h3M207 820.5h1M219 820.5h1M347.5 820v2M482 820.5h1M542 820.5h3M624 820.5h3M689.5 820v2M705 820.5h2M731 820.5h2M1126 820.5h2M1132 820.5h1M1222 820.5h1M115.5 821v2M156 821.5h2M174 821.5h8M188 821.5h4M195 821.5h1M206.5 821v2M220 821.5h1M234 821.5h1M439.5 821v2M481 821.5h1M483 821.5h1M540 821.5h2M620 821.5h4M627.5 821v2M702 821.5h3M733 821.5h2M744 821.5h3M1125 821.5h1M1133 821.5h1M1221 821.5h1M1254.5 821v2M158 822.5h3M166 822.5h8M182 822.5h6M196 822.5h2M221 822.5h1M233 822.5h1M235 822.5h2M346.5 822v2M480 822.5h1M484 822.5h2M538 822.5h2M618 822.5h2M690.5 822v2M700 822.5h2M735 822.5h2M740 822.5h4M746 822.5h1M1123 822.5h2M1134 822.5h1M1220.5 822v2M114 823.5h1M161 823.5h5M198 823.5h1M205 823.5h1M222.5 823v2M232 823.5h1M237 823.5h2M440.5 823v3M479 823.5h1M486 823.5h1M537.5 823v2M558.5 823v4M616 823.5h2M628.5 823v2M650.5 823v3M691 823.5h9M737 823.5h3M747.5 823v2M1122 823.5h1M1135 823.5h1M1255.5 823v2M112 824.5h2M199 824.5h1M204 824.5h1M230 824.5h2M239 824.5h2M345.5 824v4M478 824.5h1M487 824.5h1M615 824.5h1M1121 824.5h1M1136 824.5h1M1219 824.5h1M111 825.5h1M200 825.5h2M203 825.5h1M223 825.5h1M229 825.5h1M241 825.5h3M477 825.5h1M488 825.5h2M536 825.5h1M614 825.5h1M629.5 825v2M748.5 825v2M1120 825.5h1M1137 825.5h1M1218.5 825v2M1256.5 825v2M110 826.5h1M202 826.5h1M224 826.5h1M228 826.5h1M244 826.5h2M441.5 826v2M476 826.5h1M490 826.5h10M535.5 826v2M612 826.5h2M648 826.5h2M1119 826.5h1M1138 826.5h10M1265 826.5h2M108 827.5h2M225 827.5h1M227 827.5h1M246 827.5h3M465 827.5h5M475 827.5h1M500 827.5h2M559.5 827v4M611 827.5h1M630.5 827v2M647 827.5h1M749.5 827v2M1118 827.5h1M1148 827.5h4M1166 827.5h5M1217.5 827v2M1257.5 827v2M1263 827.5h2M1267 827.5h1M18 828.5h10M107 828.5h1M226 828.5h1M249 828.5h2M344.5 828v4M442.5 828v2M462 828.5h3M470 828.5h5M502 828.5h3M521 828.5h2M534 828.5h1M600 828.5h11M646 828.5h1M1117 828.5h1M1152 828.5h14M1171.5 828v2M1261 828.5h2M1268 828.5h1M17.5 829v2M28 829.5h4M106.5 829v2M250 829.5h1M460 829.5h2M505 829.5h3M519 829.5h2M523 829.5h1M533.5 829v2M596 829.5h4M631.5 829v2M644 829.5h2M750.5 829v3M1116 829.5h1M1216.5 829v2M1258 829.5h3M1269 829.5h1M32 830.5h6M251.5 830v3M443 830.5h1M458 830.5h2M508 830.5h2M517 830.5h2M524 830.5h2M594 830.5h2M643 830.5h1M1115 830.5h1M1172 830.5h1M1258 830.5h1M1270 830.5h2M16.5 831v2M38 831.5h5M105.5 831v2M444 831.5h1M457 831.5h1M510 831.5h3M515 831.5h2M526 831.5h1M532 831.5h1M560.5 831v4M593 831.5h1M632.5 831v2M642 831.5h1M1114 831.5h1M1173 831.5h1M1215.5 831v3M1272 831.5h1M43 832.5h1M343.5 832v4M445 832.5h1M456 832.5h1M513 832.5h2M527 832.5h1M531.5 832v2M592 832.5h1M640 832.5h2M751.5 832v2M1113.5 832v2M1174.5 832v2M1273 832.5h1M15.5 833v2M44 833.5h1M104.5 833v2M252.5 833v3M290 833.5h4M446 833.5h1M454 833.5h2M528 833.5h2M590 833.5h2M633.5 833v2M638 833.5h2M1274.5 833v2M45 834.5h1M288 834.5h2M294 834.5h5M447 834.5h1M453 834.5h1M530 834.5h1M589 834.5h1M637 834.5h1M752.5 834v2M1112 834.5h1M1175 834.5h1M1214.5 834v2M14 835.5h1M46 835.5h1M103.5 835v3M287 835.5h1M299.5 835v2M448 835.5h1M452 835.5h1M561.5 835v4M588 835.5h1M634 835.5h3M761 835.5h2M1111.5 835v2M1176 835.5h1M1275.5 835v2M1386 835.5h9M13.5 836v2M47 836.5h1M253.5 836v3M286 836.5h1M342.5 836v3M449 836.5h1M451 836.5h1M587 836.5h1M634 836.5h1M753.5 836v2M759 836.5h2M763 836.5h1M1088 836.5h3M1177.5 836v2M1213.5 836v3M1384 836.5h2M48 837.5h1M284 837.5h2M300.5 837v2M450 837.5h1M586 837.5h1M757 837.5h2M764 837.5h1M1084 837.5h4M1091 837.5h2M1110 837.5h1M1276.5 837v3M1382 837.5h2M12.5 838v2M49 838.5h1M102.5 838v2M283 838.5h1M585 838.5h1M754 838.5h3M765 838.5h1M1082 838.5h2M1093 838.5h2M1109.5 838v2M1178 838.5h1M1381 838.5h1M50 839.5h1M254.5 839v2M282 839.5h1M301.5 839v2M341.5 839v4M562.5 839v2M566 839.5h5M584.5 839v2M754 839.5h1M766 839.5h2M1081.5 839v2M1095 839.5h2M1179 839.5h1M1212.5 839v2M1379 839.5h2M11.5 840v2M51 840.5h2M101.5 840v3M281 840.5h1M563 840.5h3M571 840.5h1M768 840.5h1M1097 840.5h3M1108 840.5h1M1180 840.5h1M1277.5 840v3M1378 840.5h1M53 841.5h2M74 841.5h10M255.5 841v3M280 841.5h1M302.5 841v2M572 841.5h1M583 841.5h1M769 841.5h1M1080.5 841v2M1100 841.5h2M1107.5 841v2M1181 841.5h1M1211.5 841v2M1376 841.5h2M9 842.5h2M55 842.5h2M73.5 842v2M84 842.5h4M279 842.5h1M322 842.5h1M573 842.5h1M582 842.5h1M770 842.5h1M1102 842.5h3M1182 842.5h2M1375 842.5h1M6 843.5h3M57 843.5h2M88 843.5h3M100.5 843v2M278 843.5h1M303.5 843v2M321 843.5h1M323 843.5h2M340.5 843v4M574 843.5h1M581 843.5h1M771 843.5h1M1079 843.5h1M1105 843.5h2M1184 843.5h1M1210.5 843v2M1278.5 843v2M1374 843.5h1M4 844.5h2M59 844.5h1M72 844.5h1M91 844.5h2M256.5 844v3M277 844.5h1M320 844.5h1M325 844.5h2M575 844.5h1M580.5 844v2M772.5 844v2M1062 844.5h5M1078.5 844v2M1185 844.5h1M1190 844.5h6M1209 844.5h1M1372 844.5h2M2 845.5h2M60 845.5h1M71 845.5h1M93 845.5h1M99.5 845v2M276 845.5h1M304.5 845v2M318 845.5h2M327 845.5h2M576 845.5h1M1058 845.5h4M1067 845.5h1M1186 845.5h4M1196 845.5h2M1206 845.5h3M1279.5 845v3M1371 845.5h1M61 846.5h1M70.5 846v2M94 846.5h2M275 846.5h1M317 846.5h1M329 846.5h2M577 846.5h1M579 846.5h1M773 846.5h1M1057.5 846v2M1068 846.5h1M1077 846.5h1M1198 846.5h3M1204 846.5h2M1370.5 846v2M62.5 847v2M96 847.5h3M257.5 847v3M270 847.5h5M305.5 847v2M316 847.5h1M331 847.5h1M339.5 847v4M578 847.5h1M774 847.5h1M1069 847.5h1M1076.5 847v2M1201 847.5h3M69 848.5h1M98 848.5h1M265 848.5h5M315 848.5h1M332 848.5h2M775 848.5h1M1056 848.5h1M1070 848.5h2M1280.5 848v3M1369.5 848v3M63 849.5h1M68 849.5h1M262 849.5h3M306.5 849v2M310 849.5h5M334 849.5h1M776.5 849v2M1055 849.5h1M1072 849.5h1M1075.5 849v2M64 850.5h1M67.5 850v2M258.5 850v2M260 850.5h2M307 850.5h3M335 850.5h1M1054.5 850v2M1073 850.5h1M65 851.5h1M259 851.5h1M336 851.5h3M777 851.5h1M1074 851.5h1M1281.5 851v2M1368.5 851v3M66 852.5h1M338 852.5h1M778 852.5h1M1053 852.5h1M779 853.5h1M1052 853.5h1M1282.5 853v2M780.5 854v2M1051.5 854v2M1367.5 854v3M1283 855.5h1M1298 855.5h1M781 856.5h1M866 856.5h1M1050.5 856v2M1284 856.5h2M1296 856.5h2M1299.5 856v2M782 857.5h1M865 857.5h1M867.5 857v2M1286 857.5h1M1294 857.5h2M1366.5 857v4M783 858.5h1M864 858.5h1M1049.5 858v2M1287 858.5h1M1293 858.5h1M1300 858.5h1M784.5 859v2M863 859.5h1M868 859.5h1M1288 859.5h2M1291 859.5h2M1301 859.5h1M862 860.5h1M869 860.5h1M930 860.5h1M1048.5 860v2M1290 860.5h1M1302.5 860v2M785 861.5h1M861 861.5h1M870.5 861v2M929.5 861v2M931 861.5h1M1365.5 861v3M786 862.5h2M860 862.5h1M932 862.5h2M1047.5 862v2M1303 862.5h1M788 863.5h2M800 863.5h3M859 863.5h1M871 863.5h1M928 863.5h1M934 863.5h1M1304 863.5h1M790 864.5h3M796 864.5h4M803 864.5h2M841 864.5h5M854 864.5h5M872 864.5h1M927.5 864v2M935 864.5h1M1046.5 864v3M1305.5 864v2M1364.5 864v3M793 865.5h3M805 865.5h2M825 865.5h3M838 865.5h3M846 865.5h8M873.5 865v2M936 865.5h2M807 866.5h2M823 866.5h2M828 866.5h4M836 866.5h2M926 866.5h1M938 866.5h4M960 866.5h3M1306 866.5h1M809 867.5h3M821 867.5h2M832 867.5h4M874 867.5h1M925.5 867v2M942 867.5h8M956 867.5h4M963 867.5h1M1025 867.5h5M1045.5 867v2M1307.5 867v2M1363.5 867v3M812 868.5h4M819 868.5h2M875 868.5h1M950 868.5h6M964 868.5h1M1022 868.5h3M1030 868.5h5M816 869.5h3M876 869.5h1M924 869.5h1M965 869.5h1M1020 869.5h2M1035 869.5h1M1044.5 869v2M1308 869.5h1M877 870.5h1M923.5 870v2M966 870.5h2M1018 870.5h2M1036 870.5h2M1309.5 870v2M1354 870.5h4M1362.5 870v2M878 871.5h1M968 871.5h1M1017 871.5h1M1038 871.5h1M1043.5 871v2M1352 871.5h2M1358 871.5h4M879 872.5h1M920 872.5h3M969 872.5h1M1016 872.5h1M1039 872.5h1M1310 872.5h1M1351 872.5h1M880 873.5h1M898 873.5h12M916 873.5h4M970 873.5h1M1015 873.5h1M1040 873.5h3M1311.5 873v2M1350 873.5h1M881 874.5h1M896 874.5h2M910 874.5h6M971 874.5h1M1014.5 874v2M1042 874.5h1M1348 874.5h2M882 875.5h2M894 875.5h2M972.5 875v2M998 875.5h5M1312 875.5h1M1334 875.5h8M1347 875.5h1M884 876.5h2M893 876.5h1M990 876.5h8M1003 876.5h2M1013 876.5h1M1313.5 876v2M1329 876.5h5M1342 876.5h5M886 877.5h3M891 877.5h2M973 877.5h1M986 877.5h4M1005 877.5h2M1012 877.5h1M1327 877.5h2M889 878.5h2M974 878.5h1M984 878.5h2M1007 878.5h2M1011 878.5h1M1314 878.5h2M1325 878.5h2M975 879.5h1M983 879.5h1M1009 879.5h2M1316 879.5h4M1323 879.5h2M976.5 880v2M982 880.5h1M1320 880.5h3M980 881.5h2M977 882.5h1M979 882.5h1M978 883.5h1" stroke="#1e90ff" stroke-width="1" fill="none" shape-rendering="crispEdges"/>
<g shape-rendering="crispEdges" fill="#000">
<rect x="1" y="30" width="1" height="902"/>
<rect x="1" y="30" width="1621" height="1"/>
<rect x="1621" y="30" width="1" height="902"/>
<rect x="1" y="583" width="1622" height="1"/>
<rect x="1" y="585" width="1622" height="1"/>
<rect x="1" y="755" width="1622" height="1"/>
<rect x="1" y="757" width="1622" height="1"/>
<rect x="1" y="931" width="1622" height="1"/>
</g>
<rect x="1" y="309" width="6" height="6" fill="#ff0000" shape-rendering="crispEdges"/><rect x="3" y="311" width="2" height="2" fill="#fff" shape-rendering="crispEdges"/>
<rect x="1615" y="309" width="6" height="6" fill="#ff0000" shape-rendering="crispEdges"/><rect x="1617" y="311" width="2" height="2" fill="#fff" shape-rendering="crispEdges"/>
<rect x="1621" y="311" width="2" height="2" fill="#ff0000"/>
<rect x="1" y="345" width="6" height="6" fill="#ff0000" shape-rendering="crispEdges"/><rect x="3" y="347" width="2" height="2" fill="#fff" shape-rendering="crispEdges"/>
<rect x="1615" y="345" width="6" height="6" fill="#ff0000" shape-rendering="crispEdges"/><rect x="1617" y="347" width="2" height="2" fill="#fff" shape-rendering="crispEdges"/>
<rect x="1621" y="347" width="2" height="2" fill="#ff0000"/>
<rect x="1" y="432" width="6" height="6" fill="#0000ff" shape-rendering="crispEdges"/><rect x="3" y="434" width="2" height="2" fill="#fff" shape-rendering="crispEdges"/>
<rect x="1615" y="432" width="6" height="6" fill="#0000ff" shape-rendering="crispEdges"/><rect x="1617" y="434" width="2" height="2" fill="#fff" shape-rendering="crispEdges"/>
<rect x="1621" y="434" width="2" height="2" fill="#0000ff"/>
<rect x="1" y="470" width="6" height="6" fill="#0000ff" shape-rendering="crispEdges"/><rect x="3" y="472" width="2" height="2" fill="#fff" shape-rendering="crispEdges"/>
<rect x="1615" y="470" width="6" height="6" fill="#0000ff" shape-rendering="crispEdges"/><rect x="1617" y="472" width="2" height="2" fill="#fff" shape-rendering="crispEdges"/>
<rect x="1621" y="472" width="2" height="2" fill="#0000ff"/>
<rect x="1621" y="400" width="2" height="2" fill="#32cd32"/>
<g shape-rendering="crispEdges" fill="#000">
<rect x="1622" y="52" width="2" height="1"/>
<rect x="1622" y="85" width="2" height="1"/>
<rect x="1622" y="118" width="2" height="1"/>
<rect x="1622" y="151" width="2" height="1"/>
<rect x="1622" y="184" width="2" height="1"/>
<rect x="1622" y="217" width="2" height="1"/>
<rect x="1622" y="250" width="2" height="1"/>
<rect x="1622" y="283" width="2" height="1"/>
<rect x="1622" y="316" width="2" height="1"/>
<rect x="1622" y="349" width="2" height="1"/>
<rect x="1622" y="382" width="2" height="1"/>
<rect x="1622" y="415" width="2" height="1"/>
<rect x="1622" y="448" width="2" height="1"/>
<rect x="1622" y="481" width="2" height="1"/>
<rect x="1622" y="514" width="2" height="1"/>
<rect x="1622" y="547" width="2" height="1"/>
<rect x="1622" y="580" width="2" height="1"/>
<rect x="1622" y="690" width="2" height="1"/>
<rect x="1622" y="793" width="2" height="1"/>
<rect x="1622" y="844" width="2" height="1"/>
<rect x="1622" y="905" width="2" height="1"/>
<rect x="2" y="932" width="1" height="3"/>
<rect x="66" y="932" width="1" height="3"/>
<rect x="130" y="932" width="1" height="3"/>
<rect x="194" y="932" width="1" height="3"/>
<rect x="258" y="932" width="1" height="3"/>
<rect x="322" y="932" width="1" height="3"/>
<rect x="386" y="932" width="1" height="3"/>
<rect x="450" y="932" width="1" height="3"/>
<rect x="514" y="932" width="1" height="3"/>
<rect x="578" y="932" width="1" height="3"/>
<rect x="642" y="932" width="1" height="3"/>
<rect x="706" y="932" width="1" height="3"/>
<rect x="770" y="932" width="1" height="3"/>
<rect x="834" y="932" width="1" height="3"/>
<rect x="898" y="932" width="1" height="3"/>
<rect x="962" y="932" width="1" height="3"/>
<rect x="1026" y="932" width="1" height="3"/>
<rect x="1090" y="932" width="1" height="3"/>
<rect x="1154" y="932" width="1" height="3"/>
<rect x="1218" y="932" width="1" height="3"/>
<rect x="1282" y="932" width="1" height="3"/>
<rect x="1346" y="932" width="1" height="3"/>
</g>
</svg>
<div class="ax" style="left:1627px;top:47px;">148.035</div><div class="ax" style="left:1627px;top:80px;">147.495</div><div class="ax" style="left:1627px;top:113px;">146.955</div><div class="ax" style="left:1627px;top:146px;">146.430</div><div class="ax" style="left:1627px;top:179px;">145.890</div><div class="ax" style="left:1627px;top:212px;">145.350</div><div class="ax" style="left:1627px;top:245px;">144.825</div><div class="ax" style="left:1627px;top:278px;">144.285</div><div class="ax" style="left:1627px;top:311px;">143.760</div><div class="ax" style="left:1627px;top:344px;">143.220</div><div class="ax" style="left:1627px;top:377px;">142.680</div><div class="ax" style="left:1627px;top:410px;">142.155</div><div class="ax" style="left:1627px;top:443px;">141.615</div><div class="ax" style="left:1627px;top:476px;">141.090</div><div class="ax" style="left:1627px;top:509px;">140.550</div><div class="ax" style="left:1627px;top:542px;">140.010</div><div class="ax" style="left:1627px;top:575px;">139.485</div><div class="ax" style="left:1625px;top:586px;">1.1277</div><div class="ax" style="left:1625px;top:684px;">0.00</div><div class="ax" style="left:1625px;top:742px;">-0.703</div><div class="ax" style="left:1624px;top:758px;">100</div><div class="ax" style="left:1624px;top:787px;">80</div><div class="ax" style="left:1624px;top:838px;">50</div><div class="ax" style="left:1624px;top:899px;">15</div><div class="ax" style="left:1624px;top:919px;">0</div><div class="ax" style="left:1px;top:934px;letter-spacing:.2px">25 Nov 2019</div><div class="ax" style="left:65px;top:934px;letter-spacing:.2px">26 Nov 12:00</div><div class="ax" style="left:129px;top:934px;letter-spacing:.2px">27 Nov 20:00</div><div class="ax" style="left:193px;top:934px;letter-spacing:.2px">29 Nov 04:00</div><div class="ax" style="left:257px;top:934px;letter-spacing:.2px">2 Dec 12:00</div><div class="ax" style="left:321px;top:934px;letter-spacing:.2px">3 Dec 20:00</div><div class="ax" style="left:385px;top:934px;letter-spacing:.2px">5 Dec 04:00</div><div class="ax" style="left:449px;top:934px;letter-spacing:.2px">6 Dec 12:00</div><div class="ax" style="left:513px;top:934px;letter-spacing:.2px">9 Dec 20:00</div><div class="ax" style="left:577px;top:934px;letter-spacing:.2px">11 Dec 04:00</div><div class="ax" style="left:641px;top:934px;letter-spacing:.2px">12 Dec 12:00</div><div class="ax" style="left:705px;top:934px;letter-spacing:.2px">15 Dec 23:00</div><div class="ax" style="left:769px;top:934px;letter-spacing:.2px">17 Dec 04:00</div><div class="ax" style="left:833px;top:934px;letter-spacing:.2px">18 Dec 12:00</div><div class="ax" style="left:897px;top:934px;letter-spacing:.2px">19 Dec 20:00</div><div class="ax" style="left:961px;top:934px;letter-spacing:.2px">23 Dec 04:00</div><div class="ax" style="left:1025px;top:934px;letter-spacing:.2px">24 Dec 12:00</div><div class="ax" style="left:1089px;top:934px;letter-spacing:.2px">26 Dec 16:00</div><div class="ax" style="left:1153px;top:934px;letter-spacing:.2px">30 Dec 00:00</div><div class="ax" style="left:1217px;top:934px;letter-spacing:.2px">31 Dec 08:00</div><div class="ax" style="left:1281px;top:934px;letter-spacing:.2px">2 Jan 12:00</div><div class="ax" style="left:1345px;top:934px;letter-spacing:.2px">5 Jan 23:00</div><div class="tag" style="top:306px;background:#ff0000">143.819</div><div class="tag" style="top:342px;background:#ff0000">143.237</div><div class="tag" style="top:372px;background:#000">142.761</div><div class="tag" style="top:395px;background:#32cd32">142.381</div><div class="tag" style="top:429px;background:#0000ff">141.832</div><div class="tag" style="top:467px;background:#0000ff">141.218</div>
<style>
.ti{position:absolute;top:0;height:26px;}
.tbt{position:absolute;top:7px;font-size:12px;line-height:14px;color:#000;white-space:nowrap;font-family:"Liberation Sans","Noto Sans CJK SC",sans-serif;}
.sep{position:absolute;top:2px;width:1px;height:22px;background:#a0a0a0;}
.grip{position:absolute;top:4px;width:3px;height:19px;background:repeating-linear-gradient(to bottom,#b8b8b8 0,#b8b8b8 1px,#f0f0f0 1px,#f0f0f0 2px);}
.pr{position:absolute;top:2px;height:22px;background:#f6f6f6;border:1px solid #b0b0b0;border-right-color:#fff;border-bottom-color:#fff;box-sizing:border-box;}
.tf{position:absolute;top:9px;font-size:9.5px;line-height:12px;color:#333;white-space:nowrap;}
.dd{position:absolute;top:12px;width:0;height:0;border-left:3px solid transparent;border-right:3px solid transparent;border-top:3px solid #000;}
</style>
<div id="tbhi" style="position:absolute;left:0;top:0;width:1668px;height:1px;background:#fafafa"></div>
<!-- new order icon -->
<svg class="ti" style="left:0" width="10" height="26" viewBox="0 0 10 26"><path d="M-4 6.500h5l2.500 2.500v8h-7.500z" fill="#fdfdfd" stroke="#8a8a8a" stroke-width="1"/><path d="M1 6.500v2.500h2.500" fill="none" stroke="#8a8a8a" stroke-width=".8"/><path d="M.800 13.200h3.400v3.600h3.600v3.400h-3.600v3.600h-3.400v-3.600h-3.600v-3.400h3.600z" fill="#22d422" stroke="#0a8a0a" stroke-width="1"/></svg>
<div class="tbt" style="left:11px">新订单</div>
<!-- gold book -->
<svg class="ti" style="left:58px" width="19" height="26" viewBox="0 0 19 26"><defs><linearGradient id="gbk" x1="0" y1="0" x2="1" y2="1"><stop offset="0" stop-color="#fbe878"/><stop offset=".5" stop-color="#e8b820"/><stop offset="1" stop-color="#c48c10"/></linearGradient></defs><path d="M2.200 15.200l7 6.800 8-7.200-1-1.300z" fill="#f4ead0" stroke="#8a5a08" stroke-width=".9" stroke-linejoin="round"/><path d="M6.800 7c-1.500 2.500-3.800 6-5.600 8.800l7.600 5.200 7.400-7.800z" fill="url(#gbk)" stroke="#9a6808" stroke-width="1" stroke-linejoin="round"/></svg>
<!-- server cloud -->
<svg class="ti" style="left:86px" width="18" height="26" viewBox="0 0 18 26"><path d="M3.5 7.5l3-1.5h7.5v9h-10.5z" fill="#3aa0f0" stroke="#1060c0" stroke-width="1"/><rect x="7" y="9" width="5.5" height="2" fill="#d8ecff"/><path d="M3 21.5h12a2.5 2.5 0 0 0 0-5 3 3 0 0 0-5-1.5 3 3 0 0 0-5 1.5 2.5 2.5 0 0 0-2 5z" fill="#eef4fc" stroke="#6a8ac8" stroke-width="1"/></svg>
<!-- signal -->
<svg class="ti" style="left:113px" width="20" height="26" viewBox="0 0 20 26"><circle cx="10" cy="14" r="7.3" fill="none" stroke="#9ab0e0" stroke-width="1.2"/><path d="M10 14v7.3a7.3 7.3 0 0 0 7.3-7.3 7.3 7.3 0 0 0-3-5.9" fill="#a8d8a8" stroke="#60b060" stroke-width="1" opacity=".8"/><circle cx="10" cy="14" r="4.3" fill="none" stroke="#5078d0" stroke-width="1.2"/><circle cx="10" cy="13.5" r="1.8" fill="#2050d0"/><path d="M10 14v8" stroke="#20a030" stroke-width="1.6"/></svg>
<!-- autotrade -->
<svg class="ti" style="left:141px" width="20" height="26" viewBox="0 0 20 26"><path d="M2.5 13.5h13l-6 8z" fill="#f8d840" stroke="#c09010" stroke-width="1"/><ellipse cx="9" cy="11" rx="8" ry="2.8" fill="#50a8e0" stroke="#2878b0" stroke-width="1"/><path d="M5 10.5a4 4 0 0 1 8 0z" fill="#78c0f0" stroke="#2878b0" stroke-width="1"/><circle cx="14" cy="17.5" r="4" fill="#e02010" stroke="#a01008" stroke-width=".8"/><rect x="12.3" y="15.8" width="3.4" height="3.4" fill="#fff"/></svg>
<div class="tbt" style="left:163px">自动交易</div>
<div class="sep" style="left:218px"></div>
<div class="grip" style="left:222px"></div>
<!-- bar chart icon -->
<svg class="ti" style="left:234px" width="16" height="26" viewBox="0 0 16 26"><path d="M2.500 8.500v13.500M0 19.500h13" stroke="#505050" stroke-width="1.200" fill="none"/><path d="M.800 10.500l1.700-2.800 1.700 2.800zM11.500 17.800l2.800 1.700-2.800 1.700z" fill="#505050"/><path d="M8.500 9.500v8M8.500 10.500h2.500M6 16.500h2.500" stroke="#108018" stroke-width="1.400" fill="none"/></svg>
<div class="pr" style="left:256px;width:25px"></div>
<svg class="ti" style="left:262px" width="16" height="26" viewBox="0 0 16 26"><path d="M2.500 8.500v13.500M0 19.500h13" stroke="#505050" stroke-width="1.200" fill="none"/><path d="M.800 10.500l1.700-2.800 1.700 2.800zM11.500 17.800l2.800 1.700-2.800 1.700z" fill="#505050"/><path d="M8.500 6.500v11.500" stroke="#108018" stroke-width="1.200"/><rect x="6.500" y="8.500" width="4" height="7" fill="#40e050" stroke="#108018" stroke-width="1"/></svg>
<svg class="ti" style="left:290px" width="16" height="26" viewBox="0 0 16 26"><path d="M2.500 8.500v13.500M0 19.500h13" stroke="#505050" stroke-width="1.200" fill="none"/><path d="M.800 10.500l1.700-2.800 1.700 2.800zM11.500 17.800l2.800 1.700-2.800 1.700z" fill="#505050"/><path d="M1.500 16.500c2-2 3.500-5 5.500-5s3.500 3 6 3.500" stroke="#209030" stroke-width="1.300" fill="none"/></svg>
<div class="sep" style="left:313px"></div>
<!-- zoom in -->
<svg class="ti" style="left:321px" width="19" height="26" viewBox="0 0 19 26"><path d="M10.500 15.500l4.800 4.300" stroke="#a87810" stroke-width="3.600" stroke-linecap="butt"/><path d="M10.500 15.500l4.800 4.300" stroke="#f0d848" stroke-width="2"/><circle cx="7" cy="12" r="5.200" fill="#d4eefc" stroke="#3a7cc4" stroke-width="1.300"/><path d="M4 12h6M7 9v6" stroke="#4088b0" stroke-width="1.800"/></svg>
<svg class="ti" style="left:349px" width="19" height="26" viewBox="0 0 19 26"><path d="M10.500 15.500l4.800 4.300" stroke="#a87810" stroke-width="3.600" stroke-linecap="butt"/><path d="M10.500 15.500l4.800 4.300" stroke="#f0d848" stroke-width="2"/><circle cx="7" cy="12" r="5.200" fill="#d4eefc" stroke="#3a7cc4" stroke-width="1.300"/><path d="M4 12h6" stroke="#4088b0" stroke-width="1.800"/></svg>
<!-- tile -->
<svg class="ti" style="left:377px" width="18" height="26" viewBox="0 0 18 26" shape-rendering="crispEdges"><rect x="1" y="6" width="8" height="8" fill="#38a018"/><rect x="9" y="6" width="8" height="8" fill="#2050d0"/><rect x="1" y="14" width="8" height="8" fill="#2050d0"/><rect x="9" y="14" width="8" height="8" fill="#38a018"/><rect x="2" y="9" width="6" height="4" fill="#fff"/><rect x="10" y="9" width="6" height="4" fill="#fff"/><rect x="2" y="17" width="6" height="4" fill="#fff"/><rect x="10" y="17" width="6" height="4" fill="#fff"/><rect x="3" y="10" width="4" height="1" fill="#a8d890"/><rect x="11" y="10" width="4" height="1" fill="#a0b4f0"/><rect x="3" y="18" width="4" height="1" fill="#a0b4f0"/><rect x="11" y="18" width="4" height="1" fill="#a8d890"/></svg>
<div class="sep" style="left:403px"></div>
<div class="pr" style="left:408px;width:25px"></div>
<svg class="ti" style="left:414px" width="16" height="26" viewBox="0 0 16 26"><path d="M2.500 8.500v13.500M0 19.500h13" stroke="#505050" stroke-width="1.200" fill="none"/><path d="M.800 10.500l1.700-2.800 1.700 2.800zM11.500 17.800l2.800 1.700-2.800 1.700z" fill="#505050"/><path d="M7.500 10.500v6.500l4-3.200z" fill="#60e070" stroke="#108018" stroke-width="1"/></svg>
<div class="pr" style="left:436px;width:25px"></div>
<svg class="ti" style="left:442px" width="16" height="26" viewBox="0 0 16 26"><path d="M2.500 8.500v13.500M0 19.500h13" stroke="#505050" stroke-width="1.200" fill="none"/><path d="M.800 10.500l1.700-2.800 1.700 2.800zM11.500 17.800l2.800 1.700-2.800 1.700z" fill="#505050"/><path d="M8.500 8v10" stroke="#1870a0" stroke-width="1.200"/><path d="M14 13.500h-4.500M12 11.500l-2.300 2 2.300 2" stroke="#d04808" stroke-width="1.200" fill="none"/></svg>
<div class="sep" style="left:465px"></div>
<!-- new chart plus -->
<svg class="ti" style="left:474px" width="19" height="26" viewBox="0 0 19 26"><path d="M1.500 6.500h7l3 3v9h-10z" fill="#fafafa" stroke="#808080" stroke-width="1"/><path d="M4 12l2-3 1 4" stroke="#808080" fill="none" stroke-width=".8"/><path d="M5.500 16h3.500v-3.500h3.500v3.500h3.500v3.500h-3.500v3.500h-3.500v-3.500h-3.500z" fill="#28d028" stroke="#0a800a" stroke-width="1"/></svg>
<div class="dd" style="left:497px"></div>
<svg class="ti" style="left:512px" width="19" height="26" viewBox="0 0 19 26"><circle cx="9" cy="14" r="7.300" fill="#2060d0" stroke="#1040a0" stroke-width="1"/><circle cx="9" cy="14" r="5" fill="#f4f8ff"/><path d="M9 10.500v4h3" stroke="#404040" stroke-width="1.200" fill="none"/></svg>
<div class="dd" style="left:536px"></div>
<svg class="ti" style="left:551px" width="19" height="26" viewBox="0 0 19 26"><rect x="1.500" y="7.500" width="15" height="13" fill="#f8fbff" stroke="#3878d0" stroke-width="1.400"/><rect x="1.500" y="7.500" width="15" height="2" fill="#3878d0"/><path d="M3.500 13.500l3-1 3 .5 4-1.500" stroke="#c03020" stroke-width="1.300" fill="none"/><path d="M2.500 15.500h13" stroke="#3878d0" stroke-width=".8"/><path d="M3.500 18.500l3-1 2 1 2-2 3 1.500" stroke="#20a030" stroke-width="1.300" fill="none"/></svg>
<div class="dd" style="left:574px"></div>
<div class="sep" style="left:586px"></div>
<div class="grip" style="left:590px"></div>
<div class="pr" style="left:596px;width:25px"></div>
<svg class="ti" style="left:600px" width="18" height="26" viewBox="0 0 18 26"><path d="M4.500 6.500v12l3-2.500 2.500 5 2-1-2.500-4.800h4z" fill="#404040"/></svg>
<svg class="ti" style="left:628px" width="18" height="26" viewBox="0 0 18 26"><path d="M8.500 7v14M1.500 14h14" stroke="#505050" stroke-width="1" fill="none" shape-rendering="crispEdges"/><rect x="7" y="13" width="3" height="2" fill="#f0f0f0"/></svg>
<div class="sep" style="left:653px"></div>
<svg class="ti" style="left:662px" width="18" height="26" viewBox="0 0 18 26"><path d="M8.500 8v13" stroke="#505050" stroke-width="1" shape-rendering="crispEdges"/></svg>
<svg class="ti" style="left:690px" width="18" height="26" viewBox="0 0 18 26"><path d="M2 14.500h13" stroke="#505050" stroke-width="1" shape-rendering="crispEdges"/></svg>
<svg class="ti" style="left:718px" width="18" height="26" viewBox="0 0 18 26"><path d="M2.500 20.500l14-12" stroke="#505050" stroke-width="1.100"/></svg>
<svg class="ti" style="left:745px" width="20" height="26" viewBox="0 0 20 26" fill="none"><path d="M1.500 18l13-9M1.500 21l13-9M4 21.500l4-11M8 19.500l4-11" stroke="#606060" stroke-width="1"/><text x="14" y="23" font-size="6" fill="#333" font-family="Liberation Sans,sans-serif">E</text></svg>
<svg class="ti" style="left:774px" width="20" height="26" viewBox="0 0 20 26" fill="none"><path d="M1 8.500h14M1 11.500h14M1 15.500h14M1 19.500h10" stroke="#707070" stroke-width="1" stroke-dasharray="1 1" shape-rendering="crispEdges"/><text x="13" y="23" font-size="6" fill="#333" font-family="Liberation Sans,sans-serif">F</text></svg>
<div class="tf" style="left:805.5px;top:6px;font-size:14px;line-height:16px;color:#505050">A</div>
<svg class="ti" style="left:831px" width="18" height="26" viewBox="0 0 18 26" fill="none"><rect x="1.500" y="7.500" width="13" height="12" stroke="#707070" stroke-dasharray="1 1" shape-rendering="crispEdges"/><path d="M4.500 10.500h7M8 10.500v7" stroke="#505050" stroke-width="1.600"/></svg>
<svg class="ti" style="left:859px" width="18" height="26" viewBox="0 0 18 26"><path d="M5 7l3.500 3.500h-2.500v2h-2v-2h-2.500z" fill="#404040"/><path d="M10 20.500l3.500-3.500h-2.500v-2h-2v2h-2.500z" fill="#404040" transform="translate(1,0)"/><path d="M3 15l2 2 3.500-4" stroke="#404040" stroke-width="1.200" fill="none"/></svg>
<div class="dd" style="left:880px"></div>
<div class="sep" style="left:892px"></div>
<div class="grip" style="left:895px"></div>
<div class="tf" style="left:907px">M1</div>
<div class="tf" style="left:935px">M5</div>
<div class="tf" style="left:961px">M15</div>
<div class="tf" style="left:989px">M30</div>
<div class="tf" style="left:1021px">H1</div>
<div class="pr" style="left:1042px;width:21px"></div>
<div class="tf" style="left:1047px">H4</div>
<div class="tf" style="left:1076px">D1</div>
<div class="tf" style="left:1103px">W1</div>
<div class="tf" style="left:1130px">MN</div>
<div class="sep" style="left:1152px"></div>
<!-- search -->
<svg class="ti" style="left:1612px" width="20" height="26" viewBox="0 0 20 26"><path d="M9 14.500l-5.500 5" stroke="#2858c8" stroke-width="2.400" stroke-linecap="round"/><circle cx="12" cy="11" r="4" fill="#f8fbff" stroke="#2858c8" stroke-width="1.600"/></svg>
<svg class="ti" style="left:1640px" width="24" height="26" viewBox="0 0 24 26"><path d="M10 6.500h9a3 3 0 0 1 3 3v2.500a3 3 0 0 1-3 3h-1v3l-3-3h-5a3 3 0 0 1-3-3v-2.500a3 3 0 0 1 3-3z" fill="#f4f4f4" stroke="#909090" stroke-width="1"/><path d="M4.500 11.500h6a2.500 2.500 0 0 1 2.500 2.500v1.500a2.500 2.500 0 0 1-2.500 2.500h-3l-2.500 3v-3h-.5a2.500 2.500 0 0 1-2.500-2.500v-1.500a2.500 2.500 0 0 1 2.500-2.500z" fill="#fafafa" stroke="#808080" stroke-width="1"/></svg>

<!-- chart title -->
<svg style="position:absolute;left:4px;top:34px" width="10" height="8" viewBox="0 0 10 8"><path d="M1 6.500h7.400l-3.700-4.300z" fill="#000"/></svg>
<div class="t9" style="left:17px;top:32px;word-spacing:1px">GBPJPY-,H4&nbsp; 142.740 142.773 142.665 142.761</div>
<div class="t9" style="left:6px;top:589px;letter-spacing:.2px">MACD(12,26,9) -0.1727 -0.3711</div>
<div class="t9" style="left:6px;top:761px">RSI(14) 55.6661</div>
<!-- gray triangle -->
<div style="position:absolute;left:1404px;top:31px;width:0;height:0;border-left:6px solid transparent;border-right:6px solid transparent;border-top:6px solid #c0c0c0"></div>

<!-- one click trading panel -->
<style>
.rbx{position:absolute;background:linear-gradient(to bottom,#e63a3a 0%,#cc1c1c 50%,#b00404 100%);border:1px solid #b80000;box-sizing:border-box;}
.rtab{position:absolute;background:linear-gradient(to bottom,#ff5555 0%,#e63a3a 100%);border:1px solid #b80000;border-bottom:none;box-sizing:border-box;color:#fff;font-size:11px;text-align:center;line-height:23px;}
.big{position:absolute;color:#fff;font-size:35px;line-height:35px;transform:scaleX(.95);transform-origin:left top;white-space:nowrap;}
.sm{position:absolute;color:#fff;font-size:12.500px;font-weight:bold;line-height:12px;white-space:nowrap;}
.sbtn{position:absolute;top:51px;width:20px;height:20px;background:linear-gradient(to bottom,#f4f4f4 0%,#ececec 45%,#d8d8d8 50%,#d0d0d0 100%);}
</style>
<div class="rtab" style="left:5px;top:50px;width:52px;height:25px">SELL</div>
<div class="rtab" style="left:172px;top:50px;width:52px;height:25px">BUY</div>
<div class="rbx" style="left:5px;top:74px;width:109px;height:40px"></div>
<div class="rbx" style="left:116px;top:74px;width:108px;height:40px"></div>
<div style="position:absolute;left:6px;top:74px;width:50px;height:2px;background:#e33838"></div>
<div style="position:absolute;left:173px;top:74px;width:50px;height:2px;background:#e33838"></div>
<div style="position:absolute;left:9px;top:73px;width:44px;height:1px;background:#a00000"></div>
<div style="position:absolute;left:9px;top:74px;width:44px;height:1px;background:#ff7070"></div>
<div style="position:absolute;left:176px;top:73px;width:44px;height:1px;background:#a00000"></div>
<div style="position:absolute;left:176px;top:74px;width:44px;height:1px;background:#ff7070"></div>
<div style="position:absolute;left:59px;top:50px;width:111px;height:22px;border:1px solid #a8b0c0;background:#fff;box-sizing:border-box"></div>
<div class="sbtn" style="left:60px"></div><div class="sbtn" style="left:149px"></div>
<div style="position:absolute;left:80px;top:51px;width:1px;height:20px;background:#a8b0c0"></div>
<div style="position:absolute;left:148px;top:51px;width:1px;height:20px;background:#a8b0c0"></div>
<div style="position:absolute;left:67px;top:60px;width:0;height:0;border-left:3px solid transparent;border-right:3px solid transparent;border-top:3px solid #4858b8"></div>
<div style="position:absolute;left:156px;top:59px;width:0;height:0;border-left:3px solid transparent;border-right:3px solid transparent;border-bottom:3px solid #4858b8"></div>
<div style="position:absolute;left:100px;top:54px;width:45px;text-align:right;font-size:12.500px;line-height:14px;color:#000">1.00</div>
<div class="sm" style="left:28px;top:94px">142</div>
<div class="big" style="left:52px;top:74px">76</div>
<div class="sm" style="left:92px;top:79px">1</div>
<div class="sm" style="left:138px;top:94px">142</div>
<div class="big" style="left:163px;top:74px">82</div>
<div class="sm" style="left:203px;top:79px">3</div>

<!-- big price label -->
<div style="position:absolute;left:1523px;top:401px;width:8px;height:1px;background:#ff0000"></div>
<div style="position:absolute;left:1530px;top:399px;width:4px;height:5px;border:1px solid #ff0000;background:#fff;box-sizing:border-box"></div>
<div style="position:absolute;left:1533px;top:389px;width:74px;height:25px;border:1px solid #ff0000;background:#fff;box-sizing:border-box;overflow:hidden"><div style="position:absolute;left:1px;top:0px;font-size:22.500px;line-height:25px;color:#ff0000;white-space:nowrap;transform:scaleX(.865);transform-origin:left top">142.381</div></div>
<!-- Chinese text -->
<div style="position:absolute;left:1097px;top:437px;font-family:'Liberation Serif','Noto Serif CJK SC',serif;font-weight:500;font-size:32px;line-height:44px;color:#00ff00;white-space:nowrap;letter-spacing:.5px;text-shadow:1px 1px 0 rgba(0,40,0,.75)">多空转折点</div>

<div id="rb"></div><div id="bb"></div>
</body></html>
